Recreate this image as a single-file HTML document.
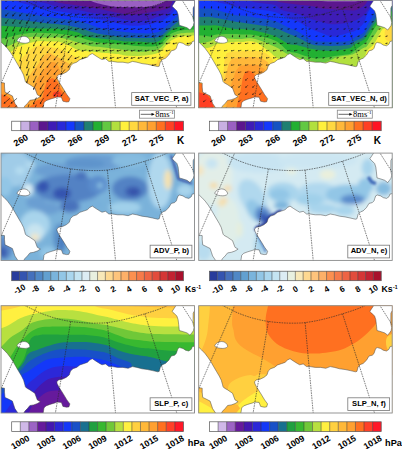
<!DOCTYPE html><html><head><meta charset="utf-8"><style>
html,body{margin:0;padding:0;background:#fff;width:402px;height:449px;overflow:hidden}
svg{display:block}
text{font-family:"Liberation Sans",sans-serif}
.lb{font-size:7.6px;font-weight:bold;fill:#000}
.cl{font-weight:bold;fill:#000}
.un{font-weight:bold;fill:#000}
.vr{font-family:"Liberation Serif",serif;font-size:8.5px;fill:#000}
</style></head><body>
<svg xmlns="http://www.w3.org/2000/svg" width="402" height="449" viewBox="0 0 402 449">
<defs><filter id="blur1" filterUnits="userSpaceOnUse" x="-20" y="-20" width="240" height="150"><feGaussianBlur stdDeviation="0.8"/></filter><filter id="blur2" filterUnits="userSpaceOnUse" x="-20" y="-20" width="240" height="150"><feGaussianBlur stdDeviation="2"/></filter><filter id="blur3" filterUnits="userSpaceOnUse" x="-20" y="-20" width="240" height="150"><feGaussianBlur stdDeviation="3"/></filter><clipPath id="pc"><rect x="1" y="0.5" width="193.5" height="107.3"/></clipPath></defs>
<g transform="translate(0,0)"><g clip-path="url(#pc)"><rect x="-5" y="-5" width="206" height="120" fill="#9a60c2"/><path d="M-15,-6 C0.83,-5.67 62.83,-4.92 80,-4 C97.17,-3.08 85.5,-1.58 88,-0.5 C90.5,0.58 92.17,1.58 95,2.5 C97.83,3.42 101.67,4.28 105,5 C108.33,5.72 110.83,6.43 115,6.8 C119.17,7.17 125,7.17 130,7.2 C135,7.23 140.83,7.28 145,7 C149.17,6.72 152.17,6.17 155,5.5 C157.83,4.83 160,3.92 162,3 C164,2.08 165.33,1.33 167,0 C168.67,-1.33 164.83,-4 172,-5 C179.17,-6 203.67,-5.83 210,-6 L215,125 L-15,125 Z" fill="#5c168e"/><path d="M-15,-6 C-7.5,-5.67 19.17,-5 30,-4 C40.83,-3 45,-1.17 50,0 C55,1.17 55.33,2.08 60,3 C64.67,3.92 73,4.75 78,5.5 C83,6.25 86.33,6.92 90,7.5 C93.67,8.08 95.33,8.08 100,9 C104.67,9.92 113,12.08 118,13 C123,13.92 126.33,14.33 130,14.5 C133.67,14.67 135.5,14.58 140,14 C144.5,13.42 152.3,11.97 157,11 C161.7,10.03 165.7,9.53 168.2,8.2 C170.7,6.87 170.7,5.2 172,3 C173.3,0.8 169.67,-3.5 176,-5 C182.33,-6.5 204.33,-5.83 210,-6 L215,125 L-15,125 Z" fill="#3e1cb6"/><path d="M-15,-4 C-9.17,-3.5 12.5,-1.83 20,-1 C27.5,-0.17 25.83,0.33 30,1 C34.17,1.67 40,1.92 45,3 C50,4.08 54.5,6.33 60,7.5 C65.5,8.67 73,9.17 78,10 C83,10.83 86.33,11.83 90,12.5 C93.67,13.17 95.33,13.08 100,14 C104.67,14.92 113,16.92 118,18 C123,19.08 126.33,20 130,20.5 C133.67,21 136.67,21.17 140,21 C143.33,20.83 147.17,20.17 150,19.5 C152.83,18.83 153.97,18.03 157,17 C160.03,15.97 165.37,15.13 168.2,13.3 C171.03,11.47 172.03,8.22 174,6 C175.97,3.78 174,1.5 180,0 C186,-1.5 205,-2.5 210,-3 L215,125 L-15,125 Z" fill="#2828d8"/><path d="M-15,-3 C-10.83,-2.5 3.23,-1.18 10,0 C16.77,1.18 19.77,2.6 25.6,4.1 C31.43,5.6 39.27,7.77 45,9 C50.73,10.23 54.5,10.58 60,11.5 C65.5,12.42 73,13.5 78,14.5 C83,15.5 86.33,16.67 90,17.5 C93.67,18.33 95.33,18.5 100,19.5 C104.67,20.5 113,22.5 118,23.5 C123,24.5 126.33,25.17 130,25.5 C133.67,25.83 135.5,26 140,25.5 C144.5,25 152.3,23.93 157,22.5 C161.7,21.07 165.2,18.98 168.2,16.9 C171.2,14.82 172.7,12.15 175,10 C177.3,7.85 176.17,5.67 182,4 C187.83,2.33 205.33,0.67 210,0 L215,125 L-15,125 Z" fill="#1438fc"/><path d="M-15,8 C-11.67,8.28 -1.77,8.82 5,9.7 C11.77,10.58 18.93,12.17 25.6,13.3 C32.27,14.43 39.27,15.63 45,16.5 C50.73,17.37 54.5,17.75 60,18.5 C65.5,19.25 73,20 78,21 C83,22 86.33,23.33 90,24.5 C93.67,25.67 95.33,26.92 100,28 C104.67,29.08 113,30.25 118,31 C123,31.75 126.63,32.12 130,32.5 C133.37,32.88 134.53,33.18 138.2,33.3 C141.87,33.42 148.33,33.57 152,33.2 C155.67,32.83 157.5,32.53 160.2,31.1 C162.9,29.67 165.73,26.78 168.2,24.6 C170.67,22.42 172.2,20.43 175,18 C177.8,15.57 179.17,12.17 185,10 C190.83,7.83 205.83,5.83 210,5 L215,125 L-15,125 Z" fill="#1452c2"/><path d="M-15,16.5 C-11.67,16.73 -1.77,17.23 5,17.9 C11.77,18.57 18.93,19.65 25.6,20.5 C32.27,21.35 39.27,22.33 45,23 C50.73,23.67 54.5,23.75 60,24.5 C65.5,25.25 73,26.33 78,27.5 C83,28.67 86.33,30.42 90,31.5 C93.67,32.58 95.33,33.15 100,34 C104.67,34.85 113.83,36.02 118,36.6 C122.17,37.18 121.63,37.28 125,37.5 C128.37,37.72 133.7,37.82 138.2,37.9 C142.7,37.98 148.33,38.27 152,38 C155.67,37.73 157.5,37.68 160.2,36.3 C162.9,34.92 165.73,31.75 168.2,29.7 C170.67,27.65 172.2,25.95 175,24 C177.8,22.05 179.17,19.67 185,18 C190.83,16.33 205.83,14.67 210,14 L215,125 L-15,125 Z" fill="#1f7f72"/><path d="M-15,25 C-11.67,25.18 -1.77,25.65 5,26.1 C11.77,26.55 18.93,27.3 25.6,27.7 C32.27,28.1 39.27,28.28 45,28.5 C50.73,28.72 54.5,28.33 60,29 C65.5,29.67 73.83,31.33 78,32.5 C82.17,33.67 81.33,34.98 85,36 C88.67,37.02 94.5,37.85 100,38.6 C105.5,39.35 113.83,40.02 118,40.5 C122.17,40.98 121.63,41.33 125,41.5 C128.37,41.67 133.7,41.33 138.2,41.5 C142.7,41.67 148.33,42.68 152,42.5 C155.67,42.32 157.5,42.02 160.2,40.4 C162.9,38.78 165.73,34.87 168.2,32.8 C170.67,30.73 172.2,29.13 175,28 C177.8,26.87 179.17,26.67 185,26 C190.83,25.33 205.83,24.33 210,24 L215,125 L-15,125 Z" fill="#22b032"/><path d="M-15,40 C-11.67,39.67 0,38.75 5,38 C10,37.25 10.83,36.33 15,35.5 C19.17,34.67 25,33.42 30,33 C35,32.58 40,32.83 45,33 C50,33.17 54.5,33.33 60,34 C65.5,34.67 73,35.92 78,37 C83,38.08 86.33,39.58 90,40.5 C93.67,41.42 95.33,41.92 100,42.5 C104.67,43.08 111.67,43.4 118,44 C124.33,44.6 132.33,45.68 138,46.1 C143.67,46.52 148.3,46.77 152,46.5 C155.7,46.23 157.5,46.25 160.2,44.5 C162.9,42.75 165.73,38.08 168.2,36 C170.67,33.92 172.2,33 175,32 C177.8,31 179.17,30.5 185,30 C190.83,29.5 205.83,29.17 210,29 L215,125 L-15,125 Z" fill="#62c842"/><path d="M-15,55 C-12.5,54.17 -5,52 0,50 C5,48 10,45.17 15,43 C20,40.83 25,37.92 30,37 C35,36.08 40,37.4 45,37.5 C50,37.6 54.5,36.77 60,37.6 C65.5,38.43 73,41.1 78,42.5 C83,43.9 86.33,45.25 90,46 C93.67,46.75 95.33,46.5 100,47 C104.67,47.5 111.67,48.2 118,49 C124.33,49.8 132.33,51.55 138,51.8 C143.67,52.05 148.3,51.13 152,50.5 C155.7,49.87 157.5,49.85 160.2,48 C162.9,46.15 165.73,41.57 168.2,39.4 C170.67,37.23 172.2,36.07 175,35 C177.8,33.93 179.17,33.5 185,33 C190.83,32.5 205.83,32.17 210,32 L215,125 L-15,125 Z" fill="#b2e03e"/><path d="M-15,62 C-10.83,60.33 4.67,54.5 10,52 C15.33,49.5 13.67,48.5 17,47 C20.33,45.5 26.17,44 30,43 C33.83,42 36.67,41.25 40,41 C43.33,40.75 46.67,41.33 50,41.5 C53.33,41.67 56.67,41.25 60,42 C63.33,42.75 67,44.67 70,46 C73,47.33 75.5,49.17 78,50 C80.5,50.83 81.33,50.6 85,51 C88.67,51.4 94.5,51.9 100,52.4 C105.5,52.9 113.83,53.48 118,54 C122.17,54.52 121.67,55.18 125,55.5 C128.33,55.82 133.5,56.07 138,55.9 C142.5,55.73 148.3,55.22 152,54.5 C155.7,53.78 157.5,53.52 160.2,51.6 C162.9,49.68 165.73,45.18 168.2,43 C170.67,40.82 172.2,39.67 175,38.5 C177.8,37.33 179.17,36.58 185,36 C190.83,35.42 205.83,35.17 210,35 L215,125 L-15,125 Z" fill="#fff03c"/><path d="M-15,80 C-10.83,78.33 4.17,73.33 10,70 C15.83,66.67 17.17,62.83 20,60 C22.83,57.17 24.83,55 27,53 C29.17,51 30.83,49.25 33,48 C35.17,46.75 37.17,45.67 40,45.5 C42.83,45.33 46.62,46.37 50,47 C53.38,47.63 56.88,48.07 60.3,49.3 C63.72,50.53 67.55,52.95 70.5,54.4 C73.45,55.85 74.75,56.73 78,58 C81.25,59.27 78,61 90,62 C102,63 138.67,64.33 150,64 C161.33,63.67 155.5,61.5 158,60 C160.5,58.5 162.17,57 165,55 C167.83,53 171.67,49.5 175,48 C178.33,46.5 179.17,46.5 185,46 C190.83,45.5 205.83,45.17 210,45 L215,125 L-15,125 Z" fill="#ffd840"/><path d="M-15,95 C-9.17,94.17 13,92.5 20,90 C27,87.5 25,83 27,80 C29,77 30.28,74.42 32,72 C33.72,69.58 35.47,68 37.3,65.5 C39.13,63 41.05,59.08 43,57 C44.95,54.92 47,53.17 49,53 C51,52.83 53.12,55.08 55,56 C56.88,56.92 57.72,57.07 60.3,58.5 C62.88,59.93 67.22,62.68 70.5,64.6 C73.78,66.52 75.08,67.43 80,70 C84.92,72.57 78.33,77.5 100,80 C121.67,82.5 191.67,84.17 210,85 L215,125 L-15,125 Z" fill="#ffb83a"/><path d="M-15,84 C-12,83.67 -1.5,81.67 3,82 C7.5,82.33 8.83,83.83 12,86 C15.17,88.17 19.83,92.67 22,95 C24.17,97.33 23.17,101.17 25,100 C26.83,98.83 30.95,91.53 33,88 C35.05,84.47 35.8,81.47 37.3,78.8 C38.8,76.13 40.3,74.22 42,72 C43.7,69.78 45.83,67.17 47.5,65.5 C49.17,63.83 50.42,62.25 52,62 C53.58,61.75 55.33,62 57,64 C58.67,66 59.83,71.33 62,74 C64.17,76.67 63.67,77.33 70,80 C76.33,82.67 76.67,87.5 100,90 C123.33,92.5 191.67,94.17 210,95 L215,125 L-15,125 Z" fill="#ffa030"/><path d="M-15,92 C-11.83,92.5 -0.5,93.67 4,95 C8.5,96.33 9.33,97.83 12,100 C14.67,102.17 17.83,106.5 20,108 C22.17,109.5 23.05,109.45 25,109 C26.95,108.55 29.83,106.67 31.7,105.3 C33.57,103.93 34.52,101.92 36.2,100.8 C37.88,99.68 40.5,100.27 41.8,98.6 C43.1,96.93 43.05,93.9 44,90.8 C44.95,87.7 46.5,81.97 47.5,80 C48.5,78.03 49.08,79.27 50,79 C50.92,78.73 51.93,78.12 53,78.4 C54.07,78.68 55.47,79.77 56.4,80.7 C57.33,81.63 57.67,82.32 58.6,84 C59.53,85.68 60.7,89.12 62,90.8 C63.3,92.48 64.23,92.57 66.4,94.1 C68.57,95.63 69.4,97.35 75,100 C80.6,102.65 77.5,108.33 100,110 C122.5,111.67 191.67,110 210,110 L215,125 L-15,125 Z" fill="#ff7020"/><ellipse cx="57" cy="94.5" rx="4.2" ry="3" fill="#ff4024"/><path d="M43,109 L44,102.7 L46,100.7 L50,99.2 L55,97.7 L57,96.9 L61.4,97.2 L62.9,101.2 L66.5,102 L68.9,101.7 L69.9,98.7 L66.9,94.7 L63.9,89.7 L61.4,85.7 L58.9,81.8 L57.2,78.5 L56.8,76.5 L58.7,74.7 L62.4,74 L66.2,72.2 L69.3,69.7 L70.5,65.9 L73,63.5 L76.7,62.2 L79.9,59.7 L83.6,58.5 L87.3,57.2 L89.8,54.8 L92.3,53.5 L96,56 L100,58.5 L102,59.6 L105.5,58.7 L108.9,61.4 L112.4,61.4 L117.6,62.2 L122.9,62.2 L128.1,63.1 L132.5,61.4 L136.8,62.2 L142,63.6 L147.3,64.3 L152.5,65.4 L157.7,66.6 L159.2,66.2 L160.4,61.7 L162.9,59.2 L165.4,58.3 L168.8,55 L171.3,50.8 L174.6,50 L176.3,48.3 L177.1,45.8 L178,43.3 L179.6,42.4 L183,43.3 L185.5,45 L188.8,45.8 L191.3,44.1 L192.2,41.6 L196,40.5 L196,109 Z" fill="#fff" stroke="#444" stroke-width="0.5"/><path d="M-1,42 L1.5,42.5 L4,44.8 L7.5,48.5 L10.5,52.5 L13.2,56.6 L16,61.5 L18.8,66.3 L21.5,70.8 L23.6,75 L24.7,79 L25.4,81.6 L26.5,82.8 L29.9,84.7 L32.5,86.5 L34.8,88 L37.3,94.7 L40.4,96.5 L37.3,98.4 L33.6,99.7 L29.9,100.3 L27.4,103.4 L24.9,105.9 L23,109 L18.7,109 L14.9,103.4 L13.7,99.7 L12.4,95.9 L7.5,93.4 L5,92.2 L4.5,87 L4.5,83 L-1,82.2 Z" fill="#fff" stroke="#444" stroke-width="0.5"/><path d="M175.7,-1 L175.7,0.8 L172.1,6.2 L173.9,7.9 L176.9,10.9 L178.1,14.5 L178.7,19.3 L179.3,25.3 L183.4,26.5 L187,27.7 L190,30 L191.8,27.7 L193.4,25.5 L194,22.5 L193.1,18.5 L193.2,8 L194.2,6 L196,5 L196,-1 Z" fill="#fff" stroke="#444" stroke-width="0.5"/><path d="M17,40.6 C17.6,38.2 20.8,36.3 24,36.3 C27.2,36.3 29.6,38.6 30,41.2 C28.8,43 26,43.5 23,43.1 C20,42.8 17.4,42 17,40.6 Z" fill="#fff" stroke="#444" stroke-width="0.5"/><g fill="none" stroke="#2a2a2a" stroke-width="0.6" stroke-dasharray="1.6 0.9"><path d="M22,-0.6 C22.48,-0.43 23.18,-0.37 24.9,0.4 C26.62,1.17 29.82,2.8 32.3,4 C34.78,5.2 36.88,6.38 39.8,7.6 C42.72,8.82 46.48,10.22 49.8,11.3 C53.12,12.38 56.38,13.3 59.7,14.1 C63.02,14.9 66.32,15.57 69.7,16.1 C73.08,16.63 76.62,17 80,17.3 C83.38,17.6 86.67,17.8 90,17.9 C93.33,18 97.1,17.98 100,17.9 C102.9,17.82 104.08,17.83 107.4,17.4 C110.72,16.97 115.75,16.15 119.9,15.3 C124.05,14.45 128.15,13.42 132.3,12.3 C136.45,11.18 140.65,9.88 144.8,8.6 C148.95,7.32 153.68,5.85 157.2,4.6 C160.72,3.35 164.02,1.97 165.9,1.1 C167.78,0.23 168.07,-0.32 168.5,-0.6"/><path d="M37.4,-0.6 L-1,88.3"/><path d="M70.7,16.2 L55.2,109"/><path d="M107.4,17.4 L115.6,109"/><path d="M144.8,8.6 L177.2,109"/><path d="M181.6,-0.6 L196,22"/></g><path d="M8.5,-1.04L6.63,0.32M15.5,-1.04L13.63,0.32M22.51,-1.03L20.63,0.32M29.6,-0.98L27.59,0.34M36.68,-0.92L34.55,0.35M43.76,-0.86L41.51,0.36M50.84,-0.79L48.47,0.36M57.92,-0.72L55.42,0.36M65,-0.64L62.38,0.36M72.07,-0.56L69.33,0.36M79.14,-0.47L76.29,0.35M86.21,-0.38L83.24,0.33M93.25,-0.32L90.21,0.32M100.25,-0.32L97.21,0.32M107.25,-0.32L104.21,0.32M114.25,-0.32L111.21,0.32M121.25,-0.32L118.21,0.32M128.25,-0.32L125.21,0.32M135.25,-0.32L132.21,0.32M142.25,-0.32L139.21,0.32M149.25,-0.32L146.21,0.32M156.25,-0.32L153.21,0.32M163.25,-0.32L160.21,0.32M170.25,-0.32L167.21,0.32M177.25,-0.32L174.21,0.32M8.56,5.94L6.5,7.65M15.56,5.94L13.5,7.65M22.57,5.95L20.5,7.65M29.66,6.03L27.47,7.64M36.74,6.11L34.44,7.64M43.82,6.19L41.41,7.63M50.9,6.29L48.38,7.62M57.97,6.38L55.35,7.61M65.04,6.48L62.32,7.6M72.1,6.59L69.29,7.58M79.16,6.7L76.26,7.56M86.22,6.81L83.23,7.54M93.25,6.88L90.21,7.52M100.25,6.88L97.21,7.52M107.25,6.88L104.21,7.52M114.25,6.88L111.21,7.52M121.25,6.88L118.21,7.52M128.25,6.88L125.21,7.52M135.25,6.88L132.21,7.52M142.25,6.88L139.21,7.52M149.25,6.88L146.21,7.52M156.25,6.88L153.21,7.52M163.25,6.88L160.21,7.52M170.25,6.88L167.21,7.52M8.47,12.78L6.42,15.02M15.47,12.78L13.42,15.02M22.48,12.8L20.41,15.01M29.6,12.9L27.39,14.99M36.7,13.02L34.36,14.97M43.8,13.14L41.33,14.94M50.89,13.27L48.31,14.91M57.98,13.4L55.29,14.88M65.05,13.54L62.27,14.85M72.12,13.69L69.25,14.82M79.17,13.84L76.23,14.78M86.22,13.99L83.22,14.75M93.25,14.08L90.21,14.72M100.25,14.08L97.21,14.72M107.25,14.08L104.21,14.72M114.25,14.08L111.21,14.72M121.25,14.08L118.21,14.72M128.25,14.08L125.21,14.72M135.25,14.08L132.21,14.72M142.25,14.08L139.21,14.72M149.25,14.08L146.21,14.72M156.25,14.08L153.21,14.72M163.25,14.08L160.21,14.72M170.25,14.08L167.21,14.72M177.25,14.08L174.21,14.72M8.27,19.48L6.35,22.52M15.27,19.48L13.35,22.52M22.29,19.49L20.34,22.51M29.46,19.64L27.3,22.45M36.61,19.81L34.27,22.39M43.75,19.98L41.24,22.32M50.87,20.16L48.22,22.26M57.98,20.35L55.2,22.2M65.07,20.55L62.19,22.13M72.14,20.75L69.19,22.07M79.19,20.95L76.2,22.01M86.23,21.16L83.21,21.96M93.25,21.28L90.21,21.92M100.25,21.28L97.21,21.92M107.25,21.28L104.21,21.92M114.25,21.28L111.21,21.92M121.25,21.28L118.21,21.92M128.25,21.28L125.21,21.92M135.25,21.28L132.21,21.92M142.25,21.28L139.21,21.92M149.25,21.28L146.21,21.92M156.25,21.28L153.21,21.92M163.25,21.28L160.21,21.92M170.25,21.28L167.21,21.92M177.25,21.28L174.21,21.92M8.07,26.22L6.32,30.05M15.07,26.22L13.32,30.05M22.1,26.24L20.31,30.04M29.33,26.43L27.24,29.94M36.54,26.63L34.19,29.84M43.72,26.85L41.15,29.73M50.87,27.08L48.12,29.63M58,27.33L55.11,29.52M65.1,27.57L62.11,29.42M72.18,27.83L69.13,29.33M79.22,28.08L76.15,29.25M86.24,28.33L83.19,29.17M93.25,28.48L90.21,29.12M100.25,28.48L97.21,29.12M107.25,28.48L104.21,29.12M114.25,28.48L111.21,29.12M121.25,28.48L118.21,29.12M128.25,28.48L125.21,29.12M135.25,28.48L132.21,29.12M142.25,28.48L139.21,29.12M149.25,28.48L146.21,29.12M156.25,28.48L153.21,29.12M163.25,28.48L160.21,29.12M170.25,28.48L167.21,29.12M177.25,28.48L174.21,29.12M184.25,28.48L181.21,29.12M7.92,32.91L6.29,37.69M14.92,32.91L13.29,37.69M36.51,33.42L34.09,37.36M43.74,33.7L41.03,37.2M50.92,33.99L48,37.04M58.07,34.3L54.99,36.88M65.17,34.6L62,36.74M72.24,34.91L69.04,36.6M79.27,35.21L76.09,36.48M86.27,35.51L83.16,36.38M93.25,35.68L90.21,36.32M100.25,35.68L97.21,36.32M107.25,35.68L104.21,36.32M114.25,35.68L111.21,36.32M121.25,35.68L118.21,36.32M128.25,35.68L125.21,36.32M135.25,35.68L132.21,36.32M142.25,35.68L139.21,36.32M149.25,35.68L146.21,36.32M156.25,35.68L153.21,36.32M163.25,35.68L160.21,36.32M170.25,35.68L167.21,36.32M177.25,35.68L174.21,36.32M184.25,35.68L181.21,36.32M191.25,35.68L188.21,36.32M7.69,39.6L6.34,45.35M14.69,39.6L13.34,45.35M36.45,40.2L34.02,44.91M43.73,40.54L40.93,44.69M50.96,40.89L47.88,44.47M58.13,41.25L54.87,44.26M65.24,41.62L61.89,44.06M72.31,41.99L68.95,43.88M79.32,42.35L76.03,43.72M86.29,42.69L83.14,43.59M93.25,42.88L90.21,43.52M100.25,42.88L97.21,43.52M107.25,42.88L104.21,43.52M114.25,42.88L111.21,43.52M121.25,42.88L118.21,43.52M128.25,42.88L125.21,43.52M135.25,42.88L132.21,43.52M142.25,42.88L139.21,43.52M149.25,42.88L146.21,43.52M156.25,42.88L153.21,43.52M163.25,42.88L160.21,43.52M170.25,42.88L167.21,43.52M177.25,42.88L174.21,43.52M191.25,42.88L188.21,43.52M14.62,46.64L13.37,52.7M21.67,46.67L20.34,52.67M29.08,46.95L27.15,52.45M36.43,47.27L34.01,52.22M43.73,47.62L40.9,51.98M50.95,47.84L47.81,51.86M57.95,47.84L54.81,51.86M64.95,47.84L61.81,51.86M71.95,47.84L68.81,51.86M79.34,49.53L76.01,50.93M86.29,49.88L83.13,50.79M93.25,50.08L90.21,50.72M100.25,50.08L97.21,50.72M107.25,50.08L104.21,50.72M114.25,50.08L111.21,50.72M121.25,50.08L118.21,50.72M128.25,50.08L125.21,50.72M135.25,50.08L132.21,50.72M142.25,50.08L139.21,50.72M149.25,50.08L146.21,50.72M156.25,50.08L153.21,50.72M163.25,50.08L160.21,50.72M170.25,50.08L167.21,50.72M21.65,53.82L20.35,59.92M29.07,54.1L27.15,59.7M36.43,54.43L34,59.46M43.73,54.79L40.89,59.22M50.95,55.04L47.81,59.06M57.95,55.04L54.81,59.06M64.95,55.04L61.81,59.06M71.95,55.04L68.81,59.06M79.34,56.72L76.01,58.14M86.3,57.08L83.13,57.99M107.25,57.28L104.21,57.92M114.25,57.28L111.21,57.92M121.25,57.28L118.21,57.92M128.25,57.28L125.21,57.92M135.25,57.28L132.21,57.92M142.25,57.28L139.21,57.92M149.25,57.28L146.21,57.92M156.25,57.28L153.21,57.92M163.25,57.28L160.21,57.92M21.63,60.96L20.35,67.18M29.06,61.25L27.15,66.95M36.43,61.58L33.99,66.7M43.74,61.95L40.88,66.45M50.95,62.24L47.81,66.26M57.95,62.24L54.81,66.26M64.95,62.24L61.81,66.26M71.95,62.24L68.81,66.26M156.25,64.48L153.21,65.12M29.05,68.4L27.14,74.19M36.43,68.74L33.98,73.94M43.74,69.11L40.87,73.68M50.95,69.44L47.81,73.46M57.95,69.44L54.81,73.46M64.95,69.44L61.81,73.46M29.04,75.55L27.14,81.44M36.42,75.89L33.97,81.18M43.74,76.27L40.86,80.92M50.96,76.64L47.81,80.67M57.95,76.64L54.81,80.66M36.42,83.09L33.97,88.39M43.74,83.46L40.86,88.12M50.96,83.84L47.81,87.87M57.95,83.84L54.81,87.86M10.06,91.07L5,95.31M43.74,90.66L40.86,95.32M50.96,91.04L47.81,95.07M57.95,91.04L54.81,95.06M64.95,91.04L61.81,95.06M10.06,98.27L5,102.51M17.06,98.27L12,102.51M36.42,97.49L33.97,102.79M43.74,97.86L40.86,102.52M10.06,105.47L5,109.71M17.06,105.47L12,109.71M29.04,104.34L27.14,110.25M36.42,104.69L33.97,109.99M43.74,105.06L40.86,109.72" stroke="#111" stroke-width="0.6" fill="none"/><path d="M5.1,1.44L6.05,-0.49L7.22,1.13ZM12.1,1.44L13.05,-0.49L14.22,1.13ZM19.09,1.43L20.04,-0.49L21.22,1.13ZM26,1.38L27.04,-0.5L28.14,1.17ZM32.92,1.32L34.04,-0.51L35.06,1.21ZM39.84,1.26L41.03,-0.52L41.98,1.24ZM46.76,1.19L48.03,-0.54L48.9,1.26ZM53.68,1.12L55.02,-0.55L55.82,1.28ZM60.6,1.04L62.02,-0.57L62.73,1.3ZM67.53,0.96L69.01,-0.59L69.65,1.31ZM74.46,0.87L76.01,-0.61L76.56,1.31ZM81.39,0.78L83.01,-0.64L83.47,1.31ZM88.35,0.72L90.01,-0.65L90.42,1.3ZM95.35,0.72L97.01,-0.65L97.42,1.3ZM102.35,0.72L104.01,-0.65L104.42,1.3ZM109.35,0.72L111.01,-0.65L111.42,1.3ZM116.35,0.72L118.01,-0.65L118.42,1.3ZM123.35,0.72L125.01,-0.65L125.42,1.3ZM130.35,0.72L132.01,-0.65L132.42,1.3ZM137.35,0.72L139.01,-0.65L139.42,1.3ZM144.35,0.72L146.01,-0.65L146.42,1.3ZM151.35,0.72L153.01,-0.65L153.42,1.3ZM158.35,0.72L160.01,-0.65L160.42,1.3ZM165.35,0.72L167.01,-0.65L167.42,1.3ZM172.35,0.72L174.01,-0.65L174.42,1.3ZM5.04,8.86L5.87,6.88L7.14,8.42ZM12.04,8.86L12.87,6.88L14.14,8.42ZM19.03,8.85L19.87,6.87L21.13,8.42ZM25.94,8.77L26.88,6.84L28.07,8.45ZM32.86,8.69L33.89,6.81L35,8.47ZM39.78,8.61L40.9,6.77L41.92,8.49ZM46.7,8.51L47.91,6.74L48.85,8.51ZM53.63,8.42L54.92,6.71L55.77,8.52ZM60.56,8.32L61.94,6.67L62.7,8.52ZM67.5,8.21L68.96,6.64L69.62,8.52ZM74.44,8.1L75.97,6.6L76.54,8.52ZM81.38,7.99L82.99,6.57L83.47,8.51ZM88.35,7.92L90.01,6.55L90.42,8.5ZM95.35,7.92L97.01,6.55L97.42,8.5ZM102.35,7.92L104.01,6.55L104.42,8.5ZM109.35,7.92L111.01,6.55L111.42,8.5ZM116.35,7.92L118.01,6.55L118.42,8.5ZM123.35,7.92L125.01,6.55L125.42,8.5ZM130.35,7.92L132.01,6.55L132.42,8.5ZM137.35,7.92L139.01,6.55L139.42,8.5ZM144.35,7.92L146.01,6.55L146.42,8.5ZM151.35,7.92L153.01,6.55L153.42,8.5ZM158.35,7.92L160.01,6.55L160.42,8.5ZM165.35,7.92L167.01,6.55L167.42,8.5ZM5.13,16.42L5.68,14.34L7.15,15.69ZM12.13,16.42L12.68,14.34L14.15,15.69ZM19.12,16.4L19.68,14.33L21.15,15.7ZM26,16.3L26.7,14.26L28.07,15.72ZM32.9,16.18L33.72,14.2L35,15.74ZM39.8,16.06L40.75,14.13L41.92,15.75ZM46.71,15.93L47.77,14.07L48.85,15.75ZM53.62,15.8L54.81,14L55.77,15.76ZM60.55,15.66L61.84,13.94L62.69,15.75ZM67.48,15.51L68.88,13.89L69.62,15.75ZM74.43,15.36L75.93,13.83L76.54,15.73ZM81.38,15.21L82.98,13.78L83.47,15.72ZM88.35,15.12L90.01,13.75L90.42,15.7ZM95.35,15.12L97.01,13.75L97.42,15.7ZM102.35,15.12L104.01,13.75L104.42,15.7ZM109.35,15.12L111.01,13.75L111.42,15.7ZM116.35,15.12L118.01,13.75L118.42,15.7ZM123.35,15.12L125.01,13.75L125.42,15.7ZM130.35,15.12L132.01,13.75L132.42,15.7ZM137.35,15.12L139.01,13.75L139.42,15.7ZM144.35,15.12L146.01,13.75L146.42,15.7ZM151.35,15.12L153.01,13.75L153.42,15.7ZM158.35,15.12L160.01,13.75L160.42,15.7ZM165.35,15.12L167.01,13.75L167.42,15.7ZM172.35,15.12L174.01,13.75L174.42,15.7ZM5.33,24.12L5.5,21.98L7.19,23.05ZM12.33,24.12L12.5,21.98L14.19,23.05ZM19.31,24.11L19.5,21.97L21.18,23.05ZM26.14,23.96L26.51,21.84L28.09,23.06ZM32.99,23.79L33.53,21.72L35.01,23.06ZM39.85,23.62L40.56,21.59L41.92,23.06ZM46.73,23.44L47.6,21.48L48.84,23.05ZM53.62,23.25L54.65,21.37L55.76,23.03ZM60.53,23.05L61.71,21.26L62.68,23.01ZM67.46,22.85L68.78,21.16L69.6,22.99ZM74.41,22.65L75.86,21.07L76.53,22.96ZM81.37,22.44L82.95,20.99L83.46,22.92ZM88.35,22.32L90.01,20.95L90.42,22.9ZM95.35,22.32L97.01,20.95L97.42,22.9ZM102.35,22.32L104.01,20.95L104.42,22.9ZM109.35,22.32L111.01,20.95L111.42,22.9ZM116.35,22.32L118.01,20.95L118.42,22.9ZM123.35,22.32L125.01,20.95L125.42,22.9ZM130.35,22.32L132.01,20.95L132.42,22.9ZM137.35,22.32L139.01,20.95L139.42,22.9ZM144.35,22.32L146.01,20.95L146.42,22.9ZM151.35,22.32L153.01,20.95L153.42,22.9ZM158.35,22.32L160.01,20.95L160.42,22.9ZM165.35,22.32L167.01,20.95L167.42,22.9ZM172.35,22.32L174.01,20.95L174.42,22.9ZM5.53,31.78L5.41,29.64L7.23,30.47ZM12.53,31.78L12.41,29.64L14.23,30.47ZM19.5,31.76L19.4,29.61L21.21,30.47ZM26.27,31.57L26.38,29.43L28.1,30.45ZM33.06,31.37L33.38,29.24L34.99,30.43ZM39.88,31.15L40.4,29.06L41.89,30.4ZM46.73,30.92L47.44,28.89L48.8,30.36ZM53.6,30.67L54.51,28.73L55.72,30.32ZM60.5,30.43L61.59,28.57L62.64,30.27ZM67.42,30.17L68.69,28.44L69.57,30.23ZM74.38,29.92L75.8,28.31L76.51,30.18ZM81.36,29.67L82.92,28.2L83.45,30.13ZM88.35,29.52L90.01,28.15L90.42,30.1ZM95.35,29.52L97.01,28.15L97.42,30.1ZM102.35,29.52L104.01,28.15L104.42,30.1ZM109.35,29.52L111.01,28.15L111.42,30.1ZM116.35,29.52L118.01,28.15L118.42,30.1ZM123.35,29.52L125.01,28.15L125.42,30.1ZM130.35,29.52L132.01,28.15L132.42,30.1ZM137.35,29.52L139.01,28.15L139.42,30.1ZM144.35,29.52L146.01,28.15L146.42,30.1ZM151.35,29.52L153.01,28.15L153.42,30.1ZM158.35,29.52L160.01,28.15L160.42,30.1ZM165.35,29.52L167.01,28.15L167.42,30.1ZM172.35,29.52L174.01,28.15L174.42,30.1ZM179.35,29.52L181.01,28.15L181.42,30.1ZM5.68,39.49L5.35,37.37L7.24,38.01ZM12.68,39.49L12.35,37.37L14.24,38.01ZM33.09,38.98L33.23,36.83L34.94,37.88ZM39.86,38.7L40.24,36.58L41.82,37.81ZM46.68,38.41L47.27,36.34L48.72,37.73ZM53.53,38.1L54.34,36.12L55.63,37.65ZM60.43,37.8L61.45,35.91L62.56,37.57ZM67.36,37.49L68.57,35.72L69.51,37.49ZM74.33,37.19L75.72,35.55L76.46,37.41ZM81.33,36.89L82.89,35.42L83.43,37.34ZM88.35,36.72L90.01,35.35L90.42,37.3ZM95.35,36.72L97.01,35.35L97.42,37.3ZM102.35,36.72L104.01,35.35L104.42,37.3ZM109.35,36.72L111.01,35.35L111.42,37.3ZM116.35,36.72L118.01,35.35L118.42,37.3ZM123.35,36.72L125.01,35.35L125.42,37.3ZM130.35,36.72L132.01,35.35L132.42,37.3ZM137.35,36.72L139.01,35.35L139.42,37.3ZM144.35,36.72L146.01,35.35L146.42,37.3ZM151.35,36.72L153.01,35.35L153.42,37.3ZM158.35,36.72L160.01,35.35L160.42,37.3ZM165.35,36.72L167.01,35.35L167.42,37.3ZM172.35,36.72L174.01,35.35L174.42,37.3ZM179.35,36.72L181.01,35.35L181.42,37.3ZM186.35,36.72L188.01,35.35L188.42,37.3ZM5.91,47.2L5.37,45.12L7.31,45.58ZM12.91,47.2L12.37,45.12L14.31,45.58ZM33.15,46.6L33.13,44.45L34.91,45.37ZM39.87,46.26L40.1,44.13L41.76,45.25ZM46.64,45.91L47.12,43.82L48.64,45.12ZM53.47,45.55L54.19,43.52L55.55,44.99ZM60.36,45.18L61.31,43.25L62.48,44.87ZM67.29,44.81L68.46,43.01L69.44,44.75ZM74.28,44.45L75.65,42.8L76.42,44.64ZM81.31,44.11L82.86,42.63L83.42,44.55ZM88.35,43.92L90.01,42.55L90.42,44.5ZM95.35,43.92L97.01,42.55L97.42,44.5ZM102.35,43.92L104.01,42.55L104.42,44.5ZM109.35,43.92L111.01,42.55L111.42,44.5ZM116.35,43.92L118.01,42.55L118.42,44.5ZM123.35,43.92L125.01,42.55L125.42,44.5ZM130.35,43.92L132.01,42.55L132.42,44.5ZM137.35,43.92L139.01,42.55L139.42,44.5ZM144.35,43.92L146.01,42.55L146.42,44.5ZM151.35,43.92L153.01,42.55L153.42,44.5ZM158.35,43.92L160.01,42.55L160.42,44.5ZM165.35,43.92L167.01,42.55L167.42,44.5ZM172.35,43.92L174.01,42.55L174.42,44.5ZM186.35,43.92L188.01,42.55L188.42,44.5ZM12.98,54.56L12.39,52.49L14.35,52.9ZM19.93,54.53L19.37,52.46L21.32,52.89ZM26.52,54.25L26.21,52.12L28.1,52.78ZM33.17,53.93L33.11,51.78L34.9,52.66ZM39.87,53.58L40.07,51.44L41.74,52.53ZM46.65,53.36L47.03,51.25L48.6,52.48ZM53.65,53.36L54.03,51.25L55.6,52.48ZM60.65,53.36L61.03,51.25L62.6,52.48ZM67.65,53.36L68.03,51.25L69.6,52.48ZM74.26,51.67L75.62,50.01L76.4,51.85ZM81.31,51.32L82.85,49.83L83.41,51.75ZM88.35,51.12L90.01,49.75L90.42,51.7ZM95.35,51.12L97.01,49.75L97.42,51.7ZM102.35,51.12L104.01,49.75L104.42,51.7ZM109.35,51.12L111.01,49.75L111.42,51.7ZM116.35,51.12L118.01,49.75L118.42,51.7ZM123.35,51.12L125.01,49.75L125.42,51.7ZM130.35,51.12L132.01,49.75L132.42,51.7ZM137.35,51.12L139.01,49.75L139.42,51.7ZM144.35,51.12L146.01,49.75L146.42,51.7ZM151.35,51.12L153.01,49.75L153.42,51.7ZM158.35,51.12L160.01,49.75L160.42,51.7ZM165.35,51.12L167.01,49.75L167.42,51.7ZM19.95,61.78L19.37,59.72L21.32,60.13ZM26.53,61.5L26.2,59.38L28.09,60.02ZM33.17,61.17L33.1,59.03L34.9,59.9ZM39.87,60.81L40.05,58.68L41.73,59.76ZM46.65,60.56L47.03,58.45L48.6,59.68ZM53.65,60.56L54.03,58.45L55.6,59.68ZM60.65,60.56L61.03,58.45L62.6,59.68ZM67.65,60.56L68.03,58.45L69.6,59.68ZM74.26,58.88L75.62,57.22L76.4,59.06ZM81.3,58.52L82.85,57.03L83.41,58.95ZM102.35,58.32L104.01,56.95L104.42,58.9ZM109.35,58.32L111.01,56.95L111.42,58.9ZM116.35,58.32L118.01,56.95L118.42,58.9ZM123.35,58.32L125.01,56.95L125.42,58.9ZM130.35,58.32L132.01,56.95L132.42,58.9ZM137.35,58.32L139.01,56.95L139.42,58.9ZM144.35,58.32L146.01,56.95L146.42,58.9ZM151.35,58.32L153.01,56.95L153.42,58.9ZM158.35,58.32L160.01,56.95L160.42,58.9ZM19.97,69.04L19.37,66.98L21.33,67.38ZM26.54,68.75L26.2,66.63L28.09,67.27ZM33.17,68.42L33.09,66.27L34.89,67.13ZM39.86,68.05L40.04,65.91L41.73,66.98ZM46.65,67.76L47.03,65.65L48.6,66.88ZM53.65,67.76L54.03,65.65L55.6,66.88ZM60.65,67.76L61.03,65.65L62.6,66.88ZM67.65,67.76L68.03,65.65L69.6,66.88ZM151.35,65.52L153.01,64.15L153.42,66.1ZM26.55,76L26.19,73.88L28.09,74.51ZM33.17,75.66L33.08,73.52L34.89,74.37ZM39.86,75.29L40.02,73.15L41.72,74.21ZM46.65,74.96L47.03,72.85L48.6,74.08ZM53.65,74.96L54.03,72.85L55.6,74.08ZM60.65,74.96L61.03,72.85L62.6,74.08ZM26.56,83.25L26.19,81.14L28.1,81.75ZM33.18,82.91L33.07,80.76L34.88,81.6ZM39.86,82.53L40.01,80.39L41.71,81.44ZM46.64,82.16L47.02,80.05L48.6,81.28ZM53.65,82.16L54.03,80.05L55.6,81.28ZM33.18,90.11L33.07,87.97L34.88,88.81ZM39.86,89.74L40.01,87.59L41.71,88.65ZM46.64,89.36L47.02,87.25L48.6,88.48ZM53.65,89.36L54.03,87.25L55.6,88.48ZM3.54,96.53L4.36,94.54L5.64,96.08ZM39.86,96.94L40.01,94.79L41.71,95.85ZM46.64,96.56L47.02,94.45L48.6,95.68ZM53.65,96.56L54.03,94.45L55.6,95.68ZM60.65,96.56L61.03,94.45L62.6,95.68ZM3.54,103.73L4.36,101.74L5.64,103.28ZM10.54,103.73L11.36,101.74L12.64,103.28ZM33.18,104.51L33.07,102.37L34.88,103.21ZM39.86,104.14L40.01,101.99L41.71,103.05ZM3.54,110.93L4.36,108.94L5.64,110.48ZM10.54,110.93L11.36,108.94L12.64,110.48ZM26.56,112.06L26.19,109.94L28.1,110.55ZM33.18,111.71L33.07,109.57L34.88,110.41ZM39.86,111.34L40.01,109.19L41.71,110.25Z" fill="#111"/></g><rect x="1" y="0.5" width="193.5" height="107.3" fill="none" stroke="#8a8a8a" stroke-width="0.9"/><rect x="131.7" y="92.6" width="59.2" height="12.7" fill="#fff" stroke="#777" stroke-width="0.8"/><text x="161.6" y="100.6" text-anchor="middle" class="lb">SAT_VEC_P, a)</text></g>
<g transform="translate(197.7,0)"><g clip-path="url(#pc)"><rect x="-5" y="-5" width="206" height="120" fill="#9a60c2"/><path d="M-15,-6 C5.83,-5.83 87.5,-5.83 110,-5 C132.5,-4.17 117.67,-2 120,-1 C122.33,0 121.17,0.58 124,1 C126.83,1.42 132.67,1.42 137,1.5 C141.33,1.58 146.58,1.5 150,1.5 C153.42,1.5 155.33,1.75 157.5,1.5 C159.67,1.25 161.25,1.08 163,0 C164.75,-1.08 160.17,-4 168,-5 C175.83,-6 203,-5.83 210,-6 L215,125 L-15,125 Z" fill="#5c168e"/><path d="M-15,-6 C-4.17,-5.83 37.5,-5.67 50,-5 C62.5,-4.33 55.83,-2.83 60,-2 C64.17,-1.17 71,-0.75 75,0 C79,0.75 80,1.75 84,2.5 C88,3.25 93.87,3.88 99,4.5 C104.13,5.12 110.63,5.53 114.8,6.2 C118.97,6.87 120.3,7.95 124,8.5 C127.7,9.05 133,9.25 137,9.5 C141,9.75 144.58,9.88 148,10 C151.42,10.12 154.55,10.85 157.5,10.2 C160.45,9.55 163.62,7.63 165.7,6.1 C167.78,4.57 168.78,2.85 170,1 C171.22,-0.85 166.33,-3.83 173,-5 C179.67,-6.17 203.83,-5.83 210,-6 L215,125 L-15,125 Z" fill="#3e1cb6"/><path d="M-15,-5 C-7.5,-4.67 20,-3.67 30,-3 C40,-2.33 40.17,-1.92 45,-1 C49.83,-0.08 53.67,1.5 59,2.5 C64.33,3.5 72.83,3.75 77,5 C81.17,6.25 80.33,8.58 84,10 C87.67,11.42 93.87,11.9 99,13.5 C104.13,15.1 110.63,18.18 114.8,19.6 C118.97,21.02 120.72,21.22 124,22 C127.28,22.78 130.5,24.13 134.5,24.3 C138.5,24.47 144.17,23.63 148,23 C151.83,22.37 154.55,21.77 157.5,20.5 C160.45,19.23 163.62,17.15 165.7,15.4 C167.78,13.65 168.45,12.23 170,10 C171.55,7.77 173.67,4.5 175,2 C176.33,-0.5 172.17,-3.67 178,-5 C183.83,-6.33 204.67,-5.83 210,-6 L215,125 L-15,125 Z" fill="#2828d8"/><path d="M-15,-3 C-10.83,-2.5 4.33,-0.83 10,0 C15.67,0.83 14.5,1 19,2 C23.5,3 32.83,5.08 37,6 C41.17,6.92 40.58,6.97 44,7.5 C47.42,8.03 52,8.45 57.5,9.2 C63,9.95 71.5,10.5 77,12 C82.5,13.5 86.83,16.7 90.5,18.2 C94.17,19.7 94.95,19.12 99,21 C103.05,22.88 110.63,27.5 114.8,29.5 C118.97,31.5 120.72,31.82 124,33 C127.28,34.18 131,36.35 134.5,36.6 C138,36.85 142,35.23 145,34.5 C148,33.77 150.42,32.83 152.5,32.2 C154.58,31.57 155.3,32.13 157.5,30.7 C159.7,29.27 163.62,26.55 165.7,23.6 C167.78,20.65 168.45,16.1 170,13 C171.55,9.9 173.33,8 175,5 C176.67,2 174.17,-3.17 180,-5 C185.83,-6.83 205,-5.83 210,-6 L215,125 L-15,125 Z" fill="#1438fc"/><path d="M-15,8 C-11.83,8.08 -0.58,8.38 4,8.5 C8.58,8.62 10,8.45 12.5,8.7 C15,8.95 14.92,8.95 19,10 C23.08,11.05 32.83,14.08 37,15 C41.17,15.92 40.58,15.1 44,15.5 C47.42,15.9 52,16.48 57.5,17.4 C63,18.32 71.5,19.33 77,21 C82.5,22.67 86.83,25.73 90.5,27.4 C94.17,29.07 94.95,28.87 99,31 C103.05,33.13 110.63,38.45 114.8,40.2 C118.97,41.95 120.72,41.23 124,41.5 C127.28,41.77 131,41.8 134.5,41.8 C138,41.8 142,41.73 145,41.5 C148,41.27 150.42,41.17 152.5,40.4 C154.58,39.63 155.3,38.17 157.5,36.9 C159.7,35.63 163.72,34.72 165.7,32.8 C167.68,30.88 168.02,27.87 169.4,25.4 C170.78,22.93 172.57,20.57 174,18 C175.43,15.43 176.17,13 178,10 C179.83,7 179.67,2.5 185,0 C190.33,-2.5 205.83,-4.17 210,-5 L215,125 L-15,125 Z" fill="#1452c2"/><path d="M-15,16.5 C-11.83,16.58 -0.58,16.93 4,17 C8.58,17.07 10,16.73 12.5,16.9 C15,17.07 14.92,17.23 19,18 C23.08,18.77 32.83,20.75 37,21.5 C41.17,22.25 40.58,21.98 44,22.5 C47.42,23.02 52,23.68 57.5,24.6 C63,25.52 71.5,26.5 77,28 C82.5,29.5 86.83,32.1 90.5,33.6 C94.17,35.1 94.95,35.17 99,37 C103.05,38.83 110.63,43.18 114.8,44.6 C118.97,46.02 120.72,45.28 124,45.5 C127.28,45.72 131,45.9 134.5,45.9 C138,45.9 142,45.73 145,45.5 C148,45.27 150.42,45.25 152.5,44.5 C154.58,43.75 155.3,42.27 157.5,41 C159.7,39.73 163.72,38.48 165.7,36.9 C167.68,35.32 167.58,34.28 169.4,31.5 C171.22,28.72 174.5,23.45 176.6,20.2 C178.7,16.95 179.77,14.37 182,12 C184.23,9.63 185.33,7.5 190,6 C194.67,4.5 206.67,3.5 210,3 L215,125 L-15,125 Z" fill="#1f7f72"/><path d="M-15,25 C-11.83,25.08 -0.58,25.4 4,25.5 C8.58,25.6 10,25.6 12.5,25.6 C15,25.6 14.92,24.93 19,25.5 C23.08,26.07 32.83,28.42 37,29 C41.17,29.58 40.58,28.72 44,29 C47.42,29.28 52,29.53 57.5,30.7 C63,31.87 71.5,33.82 77,36 C82.5,38.18 86.83,42.3 90.5,43.8 C94.17,45.3 94.95,44.12 99,45 C103.05,45.88 110.63,48.18 114.8,49.1 C118.97,50.02 120.72,50.18 124,50.5 C127.28,50.82 131,51.17 134.5,51 C138,50.83 142,49.98 145,49.5 C148,49.02 150.42,49.02 152.5,48.1 C154.58,47.18 155.3,45.35 157.5,44 C159.7,42.65 163.72,41.4 165.7,40 C167.68,38.6 167.58,38.22 169.4,35.6 C171.22,32.98 174.5,27.23 176.6,24.3 C178.7,21.37 179.77,20.05 182,18 C184.23,15.95 185.33,13.33 190,12 C194.67,10.67 206.67,10.33 210,10 L215,125 L-15,125 Z" fill="#22b032"/><path d="M-15,35 C-11.83,35.1 -0.58,35.37 4,35.6 C8.58,35.83 10,36.58 12.5,36.4 C15,36.22 14.92,34.9 19,34.5 C23.08,34.1 32.83,34 37,34 C41.17,34 40.58,34.28 44,34.5 C47.42,34.72 51.83,34.22 57.5,35.3 C63.17,36.38 72.5,38.38 78,41 C83.5,43.62 87,49 90.5,51 C94,53 94.95,51.83 99,53 C103.05,54.17 110.3,57.17 114.8,58 C119.3,58.83 122.3,58.33 126,58 C129.7,57.67 133.83,56.5 137,56 C140.17,55.5 142.42,55.38 145,55 C147.58,54.62 150.42,54.53 152.5,53.7 C154.58,52.87 155.3,51.62 157.5,50 C159.7,48.38 163.72,45.55 165.7,44 C167.68,42.45 167.58,43.3 169.4,40.7 C171.22,38.1 174.5,31.52 176.6,28.4 C178.7,25.28 179.77,23.9 182,22 C184.23,20.1 185.33,18.17 190,17 C194.67,15.83 206.67,15.33 210,15 L215,125 L-15,125 Z" fill="#62c842"/><path d="M-15,45 C-10.83,44.5 4.33,43.08 10,42 C15.67,40.92 14.5,39 19,38.5 C23.5,38 32.83,38.92 37,39 C41.17,39.08 40.58,39.02 44,39 C47.42,38.98 51.83,37.57 57.5,38.9 C63.17,40.23 72.58,44.48 78,47 C83.42,49.52 84.67,51.83 90,54 C95.33,56.17 104,58.58 110,60 C116,61.42 121,63 126,62.5 C131,62 135.58,58.25 140,57 C144.42,55.75 149.58,55.67 152.5,55 C155.42,54.33 155.3,54.17 157.5,53 C159.7,51.83 163.72,49.18 165.7,48 C167.68,46.82 167.58,47.97 169.4,45.9 C171.22,43.83 174.38,38.85 176.6,35.6 C178.82,32.35 180.47,28.67 182.7,26.4 C184.93,24.13 185.45,23.07 190,22 C194.55,20.93 206.67,20.33 210,20 L215,125 L-15,125 Z" fill="#b2e03e"/><path d="M-15,50 C-10.83,49.67 4.17,49 10,48 C15.83,47 15.5,45 20,44 C24.5,43 33,42.33 37,42 C41,41.67 40.58,42 44,42 C47.42,42 52.83,40.33 57.5,42 C62.17,43.67 68.58,49.5 72,52 C75.42,54.5 75,55.17 78,57 C81,58.83 84.67,61.17 90,63 C95.33,64.83 100,66.83 110,68 C120,69.17 140.83,71.33 150,70 C159.17,68.67 161.77,63.17 165,60 C168.23,56.83 167.47,53.7 169.4,51 C171.33,48.3 174.38,46.88 176.6,43.8 C178.82,40.72 180.8,35.13 182.7,32.5 C184.6,29.87 183.45,29.08 188,28 C192.55,26.92 206.33,26.33 210,26 L215,125 L-15,125 Z" fill="#fff03c"/><path d="M16,112 L18,100 L22,85 L26,70 L27,58 L29,53 L35,51.5 L50,51 L60,51 L68,53 L74,58 L78,66 L70,85 L60,100 L50,112 Z" fill="#ffd840"/><path d="M22,112 L24,90 L28,75 L31,64 L34,59 L40,57.5 L55,57 L64,58 L70,62 L74,72 L65,88 L55,112 Z" fill="#ffb83a"/><path d="M28,112 L30,95 L35,80 L38,71 L42,66 L50,64.5 L60,65 L67,69 L66,80 L60,100 L55,112 Z" fill="#ffa030"/><path d="M38,112 L40,102 L43,90 L45,78 L47,72.5 L50.4,70.6 L54,71.5 L56.6,74.3 L60,80 L66,90 L70,100 L68,112 Z" fill="#ff7020"/><path d="M-5,80 L5,84 L10,90 L19,100 L22,112 L-5,112 Z" fill="#ff7020"/><path d="M-5,92 L0.3,92 L5.3,93.4 L9.3,95 L14,100 L17,112 L-5,112 Z" fill="#ff4024"/><path d="M196,24 C194.73,24.8 189.9,27.13 188.4,28.8 C186.9,30.47 187,32.13 187,34 C187,35.87 186.9,38.67 188.4,40 C189.9,41.33 194.73,41.67 196,42 Z" fill="#ffd840"/><path d="M43,109 L44,102.7 L46,100.7 L50,99.2 L55,97.7 L57,96.9 L61.4,97.2 L62.9,101.2 L66.5,102 L68.9,101.7 L69.9,98.7 L66.9,94.7 L63.9,89.7 L61.4,85.7 L58.9,81.8 L57.2,78.5 L56.8,76.5 L58.7,74.7 L62.4,74 L66.2,72.2 L69.3,69.7 L70.5,65.9 L73,63.5 L76.7,62.2 L79.9,59.7 L83.6,58.5 L87.3,57.2 L89.8,54.8 L92.3,53.5 L96,56 L100,58.5 L102,59.6 L105.5,58.7 L108.9,61.4 L112.4,61.4 L117.6,62.2 L122.9,62.2 L128.1,63.1 L132.5,61.4 L136.8,62.2 L142,63.6 L147.3,64.3 L152.5,65.4 L157.7,66.6 L159.2,66.2 L160.4,61.7 L162.9,59.2 L165.4,58.3 L168.8,55 L171.3,50.8 L174.6,50 L176.3,48.3 L177.1,45.8 L178,43.3 L179.6,42.4 L183,43.3 L185.5,45 L188.8,45.8 L191.3,44.1 L192.2,41.6 L196,40.5 L196,109 Z" fill="#fff" stroke="#444" stroke-width="0.5"/><path d="M-1,42 L1.5,42.5 L4,44.8 L7.5,48.5 L10.5,52.5 L13.2,56.6 L16,61.5 L18.8,66.3 L21.5,70.8 L23.6,75 L24.7,79 L25.4,81.6 L26.5,82.8 L29.9,84.7 L32.5,86.5 L34.8,88 L37.3,94.7 L40.4,96.5 L37.3,98.4 L33.6,99.7 L29.9,100.3 L27.4,103.4 L24.9,105.9 L23,109 L18.7,109 L14.9,103.4 L13.7,99.7 L12.4,95.9 L7.5,93.4 L5,92.2 L4.5,87 L4.5,83 L-1,82.2 Z" fill="#fff" stroke="#444" stroke-width="0.5"/><path d="M175.7,-1 L175.7,0.8 L172.1,6.2 L173.9,7.9 L176.9,10.9 L178.1,14.5 L178.7,19.3 L179.3,25.3 L183.4,26.5 L187,27.7 L190,30 L191.8,27.7 L193.4,25.5 L194,22.5 L193.1,18.5 L193.2,8 L194.2,6 L196,5 L196,-1 Z" fill="#fff" stroke="#444" stroke-width="0.5"/><path d="M17,40.6 C17.6,38.2 20.8,36.3 24,36.3 C27.2,36.3 29.6,38.6 30,41.2 C28.8,43 26,43.5 23,43.1 C20,42.8 17.4,42 17,40.6 Z" fill="#fff" stroke="#444" stroke-width="0.5"/><g fill="none" stroke="#2a2a2a" stroke-width="0.6" stroke-dasharray="1.6 0.9"><path d="M22,-0.6 C22.48,-0.43 23.18,-0.37 24.9,0.4 C26.62,1.17 29.82,2.8 32.3,4 C34.78,5.2 36.88,6.38 39.8,7.6 C42.72,8.82 46.48,10.22 49.8,11.3 C53.12,12.38 56.38,13.3 59.7,14.1 C63.02,14.9 66.32,15.57 69.7,16.1 C73.08,16.63 76.62,17 80,17.3 C83.38,17.6 86.67,17.8 90,17.9 C93.33,18 97.1,17.98 100,17.9 C102.9,17.82 104.08,17.83 107.4,17.4 C110.72,16.97 115.75,16.15 119.9,15.3 C124.05,14.45 128.15,13.42 132.3,12.3 C136.45,11.18 140.65,9.88 144.8,8.6 C148.95,7.32 153.68,5.85 157.2,4.6 C160.72,3.35 164.02,1.97 165.9,1.1 C167.78,0.23 168.07,-0.32 168.5,-0.6"/><path d="M37.4,-0.6 L-1,88.3"/><path d="M70.7,16.2 L55.2,109"/><path d="M107.4,17.4 L115.6,109"/><path d="M144.8,8.6 L177.2,109"/><path d="M181.6,-0.6 L196,22"/></g><path d="M6.91,-1.1L6.81,0.1M13.91,-1.1L13.81,0.1M20.91,-1.1L20.81,0.1M27.91,-1.1L27.81,0.1M34.91,-1.1L34.81,0.1M41.91,-1.1L41.81,0.1M48.91,-1.1L48.81,0.1M57.06,-0.14L55.9,0.17M64.06,-0.14L62.9,0.17M71.06,-0.14L69.9,0.17M78.06,-0.14L76.9,0.17M85.06,-0.14L83.9,0.17M92.06,-0.14L90.9,0.17M99.06,-0.14L97.9,0.17M106.06,-0.14L104.9,0.17M113.06,-0.14L111.9,0.17M120.06,-0.14L118.9,0.17M127.06,-0.14L125.9,0.17M134.06,-0.14L132.9,0.17M141.06,-0.14L139.9,0.17M148.06,-0.14L146.9,0.17M155.06,-0.14L153.9,0.17M162.06,-0.14L160.9,0.17M169.06,-0.14L167.9,0.17M176.06,-0.14L174.9,0.17M6.91,6.1L6.81,7.3M13.91,6.1L13.81,7.3M20.91,6.1L20.81,7.3M27.91,6.1L27.81,7.3M34.91,6.1L34.81,7.3M41.91,6.1L41.81,7.3M48.91,6.1L48.81,7.3M57.06,7.06L55.9,7.37M64.06,7.06L62.9,7.37M71.06,7.06L69.9,7.37M78.06,7.06L76.9,7.37M85.06,7.06L83.9,7.37M92.06,7.06L90.9,7.37M99.06,7.06L97.9,7.37M106.06,7.06L104.9,7.37M113.06,7.06L111.9,7.37M120.06,7.06L118.9,7.37M127.06,7.06L125.9,7.37M134.06,7.06L132.9,7.37M141.06,7.06L139.9,7.37M148.06,7.06L146.9,7.37M155.06,7.06L153.9,7.37M162.06,7.06L160.9,7.37M169.06,7.06L167.9,7.37M6.91,13.3L6.81,14.5M13.91,13.3L13.81,14.5M20.91,13.3L20.81,14.5M27.91,13.3L27.81,14.5M34.91,13.3L34.81,14.5M41.91,13.3L41.81,14.5M48.91,13.3L48.81,14.5M57.06,14.26L55.9,14.57M64.06,14.26L62.9,14.57M71.06,14.26L69.9,14.57M78.06,14.26L76.9,14.57M85.06,14.26L83.9,14.57M92.06,14.26L90.9,14.57M99.06,14.26L97.9,14.57M106.06,14.26L104.9,14.57M113.06,14.26L111.9,14.57M120.06,14.26L118.9,14.57M127.06,14.26L125.9,14.57M134.06,14.26L132.9,14.57M141.06,14.26L139.9,14.57M148.06,14.26L146.9,14.57M155.06,14.26L153.9,14.57M162.06,14.26L160.9,14.57M169.06,14.26L167.9,14.57M176.06,14.26L174.9,14.57M6.91,20.5L6.81,21.7M13.91,20.5L13.81,21.7M20.91,20.5L20.81,21.7M27.91,20.5L27.81,21.7M34.91,20.5L34.81,21.7M41.91,20.5L41.81,21.7M48.91,20.5L48.81,21.7M57.06,21.46L55.9,21.77M64.06,21.46L62.9,21.77M71.06,21.46L69.9,21.77M78.06,21.46L76.9,21.77M85.06,21.46L83.9,21.77M92.06,21.46L90.9,21.77M99.06,21.46L97.9,21.77M106.06,21.46L104.9,21.77M113.06,21.46L111.9,21.77M120.06,21.46L118.9,21.77M127.06,21.46L125.9,21.77M134.06,21.46L132.9,21.77M141.06,21.46L139.9,21.77M148.06,21.46L146.9,21.77M155.06,21.46L153.9,21.77M162.06,21.46L160.9,21.77M169.06,21.46L167.9,21.77M176.06,21.46L174.9,21.77M6.91,27.7L6.81,28.9M13.91,27.7L13.81,28.9M20.91,27.7L20.81,28.9M27.91,27.7L27.81,28.9M34.91,27.7L34.81,28.9M41.91,27.7L41.81,28.9M48.91,27.7L48.81,28.9M57.06,28.66L55.9,28.97M64.06,28.66L62.9,28.97M71.06,28.66L69.9,28.97M78.06,28.66L76.9,28.97M85.06,28.66L83.9,28.97M92.06,28.66L90.9,28.97M99.06,28.66L97.9,28.97M106.06,28.66L104.9,28.97M113.06,28.66L111.9,28.97M120.06,28.66L118.9,28.97M127.06,28.66L125.9,28.97M134.06,28.66L132.9,28.97M141.06,28.66L139.9,28.97M148.06,28.66L146.9,28.97M155.06,28.66L153.9,28.97M162.06,28.66L160.9,28.97M169.06,28.66L167.9,28.97M176.06,28.66L174.9,28.97M183.06,28.66L181.9,28.97M6.91,34.9L6.81,36.1M13.91,34.9L13.81,36.1M34.91,34.9L34.81,36.1M41.91,34.9L41.81,36.1M48.91,34.9L48.81,36.1M57.06,35.86L55.9,36.17M64.06,35.86L62.9,36.17M71.06,35.86L69.9,36.17M78.06,35.86L76.9,36.17M85.06,35.86L83.9,36.17M92.06,35.86L90.9,36.17M99.06,35.86L97.9,36.17M106.06,35.86L104.9,36.17M113.06,35.86L111.9,36.17M120.06,35.86L118.9,36.17M127.06,35.86L125.9,36.17M134.06,35.86L132.9,36.17M141.06,35.86L139.9,36.17M148.06,35.86L146.9,36.17M155.06,35.86L153.9,36.17M162.06,35.86L160.9,36.17M169.06,35.86L167.9,36.17M176.06,35.86L174.9,36.17M183.06,35.86L181.9,36.17M190.06,35.86L188.9,36.17M8.57,43.09L6.41,43.47M15.57,43.09L13.41,43.47M36.57,43.09L34.41,43.47M43.57,43.09L41.41,43.47M50.57,43.09L48.41,43.47M57.57,43.09L55.41,43.47M64.57,43.09L62.41,43.47M71.57,43.09L69.41,43.47M78.57,43.09L76.41,43.47M85.57,43.09L83.41,43.47M92.57,43.09L90.41,43.47M99.57,43.09L97.41,43.47M106.06,43.06L104.9,43.37M113.06,43.06L111.9,43.37M120.06,43.06L118.9,43.37M127.06,43.06L125.9,43.37M134.06,43.06L132.9,43.37M141.06,43.06L139.9,43.37M148.06,43.06L146.9,43.37M155.06,43.06L153.9,43.37M162.06,43.06L160.9,43.37M169.06,43.06L167.9,43.37M176.06,43.06L174.9,43.37M190.06,43.06L188.9,43.37M15.57,50.29L13.41,50.67M22.57,50.29L20.41,50.67M29.57,50.29L27.41,50.67M36.57,50.29L34.41,50.67M43.57,50.29L41.41,50.67M50.57,50.29L48.41,50.67M57.57,50.29L55.41,50.67M64.57,50.29L62.41,50.67M71.57,50.29L69.41,50.67M78.57,50.29L76.41,50.67M85.57,50.29L83.41,50.67M92.57,50.29L90.41,50.67M99.57,50.29L97.41,50.67M106.06,50.26L104.9,50.57M113.06,50.26L111.9,50.57M120.06,50.26L118.9,50.57M127.06,50.26L125.9,50.57M134.06,50.26L132.9,50.57M141.06,50.26L139.9,50.57M148.06,50.26L146.9,50.57M155.06,50.26L153.9,50.57M162.06,50.26L160.9,50.57M169.06,50.26L167.9,50.57M22.57,57.49L20.41,57.87M29.57,57.49L27.41,57.87M36.57,57.49L34.41,57.87M43.57,57.49L41.41,57.87M50.57,57.49L48.41,57.87M57.57,57.49L55.41,57.87M64.57,57.49L62.41,57.87M71.57,57.49L69.41,57.87M78.57,57.49L76.41,57.87M85.57,57.49L83.41,57.87M106.06,57.46L104.9,57.77M113.06,57.46L111.9,57.77M120.06,57.46L118.9,57.77M127.06,57.46L125.9,57.77M134.06,57.46L132.9,57.77M141.06,57.46L139.9,57.77M148.06,57.46L146.9,57.77M155.06,57.46L153.9,57.77M162.06,57.46L160.9,57.77M22.57,64.69L20.41,65.07M29.57,64.69L27.41,65.07M36.57,64.69L34.41,65.07M43.57,64.69L41.41,65.07M50.57,64.69L48.41,65.07M57.57,64.69L55.41,65.07M64.57,64.69L62.41,65.07M71.57,64.69L69.41,65.07M155.06,64.66L153.9,64.97M29.57,71.89L27.41,72.27M36.57,71.89L34.41,72.27M43.57,71.89L41.41,72.27M50.57,71.89L48.41,72.27M57.57,71.89L55.41,72.27M64.57,71.89L62.41,72.27M29.07,78.13L27.52,79.68M36.07,78.13L34.52,79.68M43.07,78.13L41.52,79.68M50.07,78.13L48.52,79.68M57.07,78.13L55.52,79.68M36.07,85.33L34.52,86.88M43.07,85.33L41.52,86.88M50.07,85.33L48.52,86.88M57.07,85.33L55.52,86.88M8.07,92.53L6.52,94.08M43.07,92.53L41.52,94.08M50.07,92.53L48.52,94.08M57.07,92.53L55.52,94.08M64.07,92.53L62.52,94.08M8.07,99.73L6.52,101.28M15.07,99.73L13.52,101.28M36.07,99.73L34.52,101.28M43.07,99.73L41.52,101.28M8.07,106.93L6.52,108.48M15.07,106.93L13.52,108.48M29.07,106.93L27.52,108.48M36.07,106.93L34.52,108.48M43.07,106.93L41.52,108.48" stroke="#111" stroke-width="0.6" fill="none"/><path d="M6.69,1.5L6.01,0.03L7.61,0.17ZM13.69,1.5L13.01,0.03L14.61,0.17ZM20.69,1.5L20.01,0.03L21.61,0.17ZM27.69,1.5L27.01,0.03L28.61,0.17ZM34.69,1.5L34.01,0.03L35.61,0.17ZM41.69,1.5L41.01,0.03L42.61,0.17ZM48.69,1.5L48.01,0.03L49.61,0.17ZM54.54,0.54L55.69,-0.6L56.1,0.95ZM61.54,0.54L62.69,-0.6L63.1,0.95ZM68.54,0.54L69.69,-0.6L70.1,0.95ZM75.54,0.54L76.69,-0.6L77.1,0.95ZM82.54,0.54L83.69,-0.6L84.1,0.95ZM89.54,0.54L90.69,-0.6L91.1,0.95ZM96.54,0.54L97.69,-0.6L98.1,0.95ZM103.54,0.54L104.69,-0.6L105.1,0.95ZM110.54,0.54L111.69,-0.6L112.1,0.95ZM117.54,0.54L118.69,-0.6L119.1,0.95ZM124.54,0.54L125.69,-0.6L126.1,0.95ZM131.54,0.54L132.69,-0.6L133.1,0.95ZM138.54,0.54L139.69,-0.6L140.1,0.95ZM145.54,0.54L146.69,-0.6L147.1,0.95ZM152.54,0.54L153.69,-0.6L154.1,0.95ZM159.54,0.54L160.69,-0.6L161.1,0.95ZM166.54,0.54L167.69,-0.6L168.1,0.95ZM173.54,0.54L174.69,-0.6L175.1,0.95ZM6.69,8.7L6.01,7.23L7.61,7.37ZM13.69,8.7L13.01,7.23L14.61,7.37ZM20.69,8.7L20.01,7.23L21.61,7.37ZM27.69,8.7L27.01,7.23L28.61,7.37ZM34.69,8.7L34.01,7.23L35.61,7.37ZM41.69,8.7L41.01,7.23L42.61,7.37ZM48.69,8.7L48.01,7.23L49.61,7.37ZM54.54,7.74L55.69,6.6L56.1,8.15ZM61.54,7.74L62.69,6.6L63.1,8.15ZM68.54,7.74L69.69,6.6L70.1,8.15ZM75.54,7.74L76.69,6.6L77.1,8.15ZM82.54,7.74L83.69,6.6L84.1,8.15ZM89.54,7.74L90.69,6.6L91.1,8.15ZM96.54,7.74L97.69,6.6L98.1,8.15ZM103.54,7.74L104.69,6.6L105.1,8.15ZM110.54,7.74L111.69,6.6L112.1,8.15ZM117.54,7.74L118.69,6.6L119.1,8.15ZM124.54,7.74L125.69,6.6L126.1,8.15ZM131.54,7.74L132.69,6.6L133.1,8.15ZM138.54,7.74L139.69,6.6L140.1,8.15ZM145.54,7.74L146.69,6.6L147.1,8.15ZM152.54,7.74L153.69,6.6L154.1,8.15ZM159.54,7.74L160.69,6.6L161.1,8.15ZM166.54,7.74L167.69,6.6L168.1,8.15ZM6.69,15.9L6.01,14.43L7.61,14.57ZM13.69,15.9L13.01,14.43L14.61,14.57ZM20.69,15.9L20.01,14.43L21.61,14.57ZM27.69,15.9L27.01,14.43L28.61,14.57ZM34.69,15.9L34.01,14.43L35.61,14.57ZM41.69,15.9L41.01,14.43L42.61,14.57ZM48.69,15.9L48.01,14.43L49.61,14.57ZM54.54,14.94L55.69,13.8L56.1,15.35ZM61.54,14.94L62.69,13.8L63.1,15.35ZM68.54,14.94L69.69,13.8L70.1,15.35ZM75.54,14.94L76.69,13.8L77.1,15.35ZM82.54,14.94L83.69,13.8L84.1,15.35ZM89.54,14.94L90.69,13.8L91.1,15.35ZM96.54,14.94L97.69,13.8L98.1,15.35ZM103.54,14.94L104.69,13.8L105.1,15.35ZM110.54,14.94L111.69,13.8L112.1,15.35ZM117.54,14.94L118.69,13.8L119.1,15.35ZM124.54,14.94L125.69,13.8L126.1,15.35ZM131.54,14.94L132.69,13.8L133.1,15.35ZM138.54,14.94L139.69,13.8L140.1,15.35ZM145.54,14.94L146.69,13.8L147.1,15.35ZM152.54,14.94L153.69,13.8L154.1,15.35ZM159.54,14.94L160.69,13.8L161.1,15.35ZM166.54,14.94L167.69,13.8L168.1,15.35ZM173.54,14.94L174.69,13.8L175.1,15.35ZM6.69,23.1L6.01,21.63L7.61,21.77ZM13.69,23.1L13.01,21.63L14.61,21.77ZM20.69,23.1L20.01,21.63L21.61,21.77ZM27.69,23.1L27.01,21.63L28.61,21.77ZM34.69,23.1L34.01,21.63L35.61,21.77ZM41.69,23.1L41.01,21.63L42.61,21.77ZM48.69,23.1L48.01,21.63L49.61,21.77ZM54.54,22.14L55.69,21L56.1,22.55ZM61.54,22.14L62.69,21L63.1,22.55ZM68.54,22.14L69.69,21L70.1,22.55ZM75.54,22.14L76.69,21L77.1,22.55ZM82.54,22.14L83.69,21L84.1,22.55ZM89.54,22.14L90.69,21L91.1,22.55ZM96.54,22.14L97.69,21L98.1,22.55ZM103.54,22.14L104.69,21L105.1,22.55ZM110.54,22.14L111.69,21L112.1,22.55ZM117.54,22.14L118.69,21L119.1,22.55ZM124.54,22.14L125.69,21L126.1,22.55ZM131.54,22.14L132.69,21L133.1,22.55ZM138.54,22.14L139.69,21L140.1,22.55ZM145.54,22.14L146.69,21L147.1,22.55ZM152.54,22.14L153.69,21L154.1,22.55ZM159.54,22.14L160.69,21L161.1,22.55ZM166.54,22.14L167.69,21L168.1,22.55ZM173.54,22.14L174.69,21L175.1,22.55ZM6.69,30.3L6.01,28.83L7.61,28.97ZM13.69,30.3L13.01,28.83L14.61,28.97ZM20.69,30.3L20.01,28.83L21.61,28.97ZM27.69,30.3L27.01,28.83L28.61,28.97ZM34.69,30.3L34.01,28.83L35.61,28.97ZM41.69,30.3L41.01,28.83L42.61,28.97ZM48.69,30.3L48.01,28.83L49.61,28.97ZM54.54,29.34L55.69,28.2L56.1,29.75ZM61.54,29.34L62.69,28.2L63.1,29.75ZM68.54,29.34L69.69,28.2L70.1,29.75ZM75.54,29.34L76.69,28.2L77.1,29.75ZM82.54,29.34L83.69,28.2L84.1,29.75ZM89.54,29.34L90.69,28.2L91.1,29.75ZM96.54,29.34L97.69,28.2L98.1,29.75ZM103.54,29.34L104.69,28.2L105.1,29.75ZM110.54,29.34L111.69,28.2L112.1,29.75ZM117.54,29.34L118.69,28.2L119.1,29.75ZM124.54,29.34L125.69,28.2L126.1,29.75ZM131.54,29.34L132.69,28.2L133.1,29.75ZM138.54,29.34L139.69,28.2L140.1,29.75ZM145.54,29.34L146.69,28.2L147.1,29.75ZM152.54,29.34L153.69,28.2L154.1,29.75ZM159.54,29.34L160.69,28.2L161.1,29.75ZM166.54,29.34L167.69,28.2L168.1,29.75ZM173.54,29.34L174.69,28.2L175.1,29.75ZM180.54,29.34L181.69,28.2L182.1,29.75ZM6.69,37.5L6.01,36.03L7.61,36.17ZM13.69,37.5L13.01,36.03L14.61,36.17ZM34.69,37.5L34.01,36.03L35.61,36.17ZM41.69,37.5L41.01,36.03L42.61,36.17ZM48.69,37.5L48.01,36.03L49.61,36.17ZM54.54,36.54L55.69,35.4L56.1,36.95ZM61.54,36.54L62.69,35.4L63.1,36.95ZM68.54,36.54L69.69,35.4L70.1,36.95ZM75.54,36.54L76.69,35.4L77.1,36.95ZM82.54,36.54L83.69,35.4L84.1,36.95ZM89.54,36.54L90.69,35.4L91.1,36.95ZM96.54,36.54L97.69,35.4L98.1,36.95ZM103.54,36.54L104.69,35.4L105.1,36.95ZM110.54,36.54L111.69,35.4L112.1,36.95ZM117.54,36.54L118.69,35.4L119.1,36.95ZM124.54,36.54L125.69,35.4L126.1,36.95ZM131.54,36.54L132.69,35.4L133.1,36.95ZM138.54,36.54L139.69,35.4L140.1,36.95ZM145.54,36.54L146.69,35.4L147.1,36.95ZM152.54,36.54L153.69,35.4L154.1,36.95ZM159.54,36.54L160.69,35.4L161.1,36.95ZM166.54,36.54L167.69,35.4L168.1,36.95ZM173.54,36.54L174.69,35.4L175.1,36.95ZM180.54,36.54L181.69,35.4L182.1,36.95ZM187.54,36.54L188.69,35.4L189.1,36.95ZM5.03,43.71L6.27,42.68L6.54,44.26ZM12.03,43.71L13.27,42.68L13.54,44.26ZM33.03,43.71L34.27,42.68L34.54,44.26ZM40.03,43.71L41.27,42.68L41.54,44.26ZM47.03,43.71L48.27,42.68L48.54,44.26ZM54.03,43.71L55.27,42.68L55.54,44.26ZM61.03,43.71L62.27,42.68L62.54,44.26ZM68.03,43.71L69.27,42.68L69.54,44.26ZM75.03,43.71L76.27,42.68L76.54,44.26ZM82.03,43.71L83.27,42.68L83.54,44.26ZM89.03,43.71L90.27,42.68L90.54,44.26ZM96.03,43.71L97.27,42.68L97.54,44.26ZM103.54,43.74L104.69,42.6L105.1,44.15ZM110.54,43.74L111.69,42.6L112.1,44.15ZM117.54,43.74L118.69,42.6L119.1,44.15ZM124.54,43.74L125.69,42.6L126.1,44.15ZM131.54,43.74L132.69,42.6L133.1,44.15ZM138.54,43.74L139.69,42.6L140.1,44.15ZM145.54,43.74L146.69,42.6L147.1,44.15ZM152.54,43.74L153.69,42.6L154.1,44.15ZM159.54,43.74L160.69,42.6L161.1,44.15ZM166.54,43.74L167.69,42.6L168.1,44.15ZM173.54,43.74L174.69,42.6L175.1,44.15ZM187.54,43.74L188.69,42.6L189.1,44.15ZM12.03,50.91L13.27,49.88L13.54,51.46ZM19.03,50.91L20.27,49.88L20.54,51.46ZM26.03,50.91L27.27,49.88L27.54,51.46ZM33.03,50.91L34.27,49.88L34.54,51.46ZM40.03,50.91L41.27,49.88L41.54,51.46ZM47.03,50.91L48.27,49.88L48.54,51.46ZM54.03,50.91L55.27,49.88L55.54,51.46ZM61.03,50.91L62.27,49.88L62.54,51.46ZM68.03,50.91L69.27,49.88L69.54,51.46ZM75.03,50.91L76.27,49.88L76.54,51.46ZM82.03,50.91L83.27,49.88L83.54,51.46ZM89.03,50.91L90.27,49.88L90.54,51.46ZM96.03,50.91L97.27,49.88L97.54,51.46ZM103.54,50.94L104.69,49.8L105.1,51.35ZM110.54,50.94L111.69,49.8L112.1,51.35ZM117.54,50.94L118.69,49.8L119.1,51.35ZM124.54,50.94L125.69,49.8L126.1,51.35ZM131.54,50.94L132.69,49.8L133.1,51.35ZM138.54,50.94L139.69,49.8L140.1,51.35ZM145.54,50.94L146.69,49.8L147.1,51.35ZM152.54,50.94L153.69,49.8L154.1,51.35ZM159.54,50.94L160.69,49.8L161.1,51.35ZM166.54,50.94L167.69,49.8L168.1,51.35ZM19.03,58.11L20.27,57.08L20.54,58.66ZM26.03,58.11L27.27,57.08L27.54,58.66ZM33.03,58.11L34.27,57.08L34.54,58.66ZM40.03,58.11L41.27,57.08L41.54,58.66ZM47.03,58.11L48.27,57.08L48.54,58.66ZM54.03,58.11L55.27,57.08L55.54,58.66ZM61.03,58.11L62.27,57.08L62.54,58.66ZM68.03,58.11L69.27,57.08L69.54,58.66ZM75.03,58.11L76.27,57.08L76.54,58.66ZM82.03,58.11L83.27,57.08L83.54,58.66ZM103.54,58.14L104.69,57L105.1,58.55ZM110.54,58.14L111.69,57L112.1,58.55ZM117.54,58.14L118.69,57L119.1,58.55ZM124.54,58.14L125.69,57L126.1,58.55ZM131.54,58.14L132.69,57L133.1,58.55ZM138.54,58.14L139.69,57L140.1,58.55ZM145.54,58.14L146.69,57L147.1,58.55ZM152.54,58.14L153.69,57L154.1,58.55ZM159.54,58.14L160.69,57L161.1,58.55ZM19.03,65.31L20.27,64.28L20.54,65.86ZM26.03,65.31L27.27,64.28L27.54,65.86ZM33.03,65.31L34.27,64.28L34.54,65.86ZM40.03,65.31L41.27,64.28L41.54,65.86ZM47.03,65.31L48.27,64.28L48.54,65.86ZM54.03,65.31L55.27,64.28L55.54,65.86ZM61.03,65.31L62.27,64.28L62.54,65.86ZM68.03,65.31L69.27,64.28L69.54,65.86ZM152.54,65.34L153.69,64.2L154.1,65.75ZM26.03,72.51L27.27,71.48L27.54,73.06ZM33.03,72.51L34.27,71.48L34.54,73.06ZM40.03,72.51L41.27,71.48L41.54,73.06ZM47.03,72.51L48.27,71.48L48.54,73.06ZM54.03,72.51L55.27,71.48L55.54,73.06ZM61.03,72.51L62.27,71.48L62.54,73.06ZM26.53,80.67L26.95,79.12L28.08,80.25ZM33.53,80.67L33.95,79.12L35.08,80.25ZM40.53,80.67L40.95,79.12L42.08,80.25ZM47.53,80.67L47.95,79.12L49.08,80.25ZM54.53,80.67L54.95,79.12L56.08,80.25ZM33.53,87.87L33.95,86.32L35.08,87.45ZM40.53,87.87L40.95,86.32L42.08,87.45ZM47.53,87.87L47.95,86.32L49.08,87.45ZM54.53,87.87L54.95,86.32L56.08,87.45ZM5.53,95.07L5.95,93.52L7.08,94.65ZM40.53,95.07L40.95,93.52L42.08,94.65ZM47.53,95.07L47.95,93.52L49.08,94.65ZM54.53,95.07L54.95,93.52L56.08,94.65ZM61.53,95.07L61.95,93.52L63.08,94.65ZM5.53,102.27L5.95,100.72L7.08,101.85ZM12.53,102.27L12.95,100.72L14.08,101.85ZM33.53,102.27L33.95,100.72L35.08,101.85ZM40.53,102.27L40.95,100.72L42.08,101.85ZM5.53,109.47L5.95,107.92L7.08,109.05ZM12.53,109.47L12.95,107.92L14.08,109.05ZM26.53,109.47L26.95,107.92L28.08,109.05ZM33.53,109.47L33.95,107.92L35.08,109.05ZM40.53,109.47L40.95,107.92L42.08,109.05Z" fill="#111"/></g><rect x="1" y="0.5" width="193.5" height="107.3" fill="none" stroke="#8a8a8a" stroke-width="0.9"/><rect x="131" y="92.6" width="60.1" height="12.7" fill="#fff" stroke="#777" stroke-width="0.8"/><text x="161.35" y="100.6" text-anchor="middle" class="lb">SAT_VEC_N, d)</text></g>
<g transform="translate(0,152.6)"><g clip-path="url(#pc)"><g filter="url(#blur2)"><rect x="-10" y="-10" width="216" height="130" fill="#7ab2da"/><ellipse cx="14" cy="16" rx="18" ry="18" fill="#a0cce8"/><ellipse cx="20" cy="18" rx="5" ry="4" fill="#b4dcf0"/><ellipse cx="30" cy="12" rx="5" ry="4" fill="#b0d8ee"/><ellipse cx="5" cy="34" rx="7" ry="10" fill="#92c6e6"/><ellipse cx="55" cy="18" rx="20" ry="7" fill="#6a9ed2"/><ellipse cx="95" cy="10" rx="30" ry="8" fill="#6a9ed2"/><ellipse cx="130" cy="8" rx="18" ry="7" fill="#86bce0"/><ellipse cx="68" cy="36" rx="34" ry="14" fill="#5282c4"/><ellipse cx="43" cy="34" rx="6" ry="6" fill="#3454b0"/><ellipse cx="62" cy="41" rx="9" ry="6" fill="#3454b0"/><ellipse cx="81" cy="23" rx="6" ry="4" fill="#4a72bc"/><ellipse cx="98" cy="32" rx="10" ry="9" fill="#5a8ccc"/><ellipse cx="100" cy="33" rx="3" ry="3" fill="#86bce0"/><ellipse cx="130" cy="36" rx="18" ry="12" fill="#5282c4"/><ellipse cx="133" cy="39" rx="8" ry="5" fill="#3a5cb0"/><ellipse cx="134" cy="40" rx="3" ry="2" fill="#2e4aa4"/><ellipse cx="160" cy="28" rx="12" ry="28" fill="#b0d8ee"/><ellipse cx="168" cy="27" rx="4" ry="10" fill="#f4e2b0"/><ellipse cx="185" cy="38" rx="8" ry="6" fill="#a8d4ec"/><ellipse cx="70" cy="54" rx="10" ry="6" fill="#4a72bc"/><ellipse cx="92" cy="52" rx="12" ry="5" fill="#78b0da"/><ellipse cx="125" cy="55" rx="16" ry="6" fill="#a0d0ea"/><ellipse cx="36" cy="50" rx="10" ry="6" fill="#6a9ed2"/><ellipse cx="48" cy="56" rx="12" ry="6" fill="#6a9ed2"/><ellipse cx="85" cy="11" rx="20" ry="5" fill="#5e94cc"/><ellipse cx="28" cy="37" rx="5" ry="6" fill="#d8ecf4"/><ellipse cx="35" cy="72" rx="15" ry="14" fill="#a8d4ec"/><ellipse cx="35" cy="80" rx="9" ry="9" fill="#c8e4f0"/><ellipse cx="35" cy="85" rx="4" ry="4" fill="#f0e6c8"/><ellipse cx="60" cy="85" rx="7" ry="14" fill="#5a90c8"/><ellipse cx="62" cy="90" rx="3" ry="10" fill="#4a7cc0"/><ellipse cx="5" cy="95" rx="8" ry="12" fill="#5a88c8"/><ellipse cx="3" cy="100" rx="4" ry="6" fill="#3a5cb0"/><ellipse cx="48" cy="100" rx="8" ry="6" fill="#92c6e6"/></g><path d="M171,3 L173.5,10 L176,18 L178.3,26.5 L184,28.5 L192,31" fill="none" stroke="#2a3c9c" stroke-width="1.6" stroke-linejoin="round" filter="url(#blur1)"/><path d="M43,109 L44,102.7 L46,100.7 L50,99.2 L55,97.7 L57,96.9 L61.4,97.2 L62.9,101.2 L66.5,102 L68.9,101.7 L69.9,98.7 L66.9,94.7 L63.9,89.7 L61.4,85.7 L58.9,81.8 L57.2,78.5 L56.8,76.5 L58.7,74.7 L62.4,74 L66.2,72.2 L69.3,69.7 L70.5,65.9 L73,63.5 L76.7,62.2 L79.9,59.7 L83.6,58.5 L87.3,57.2 L89.8,54.8 L92.3,53.5 L96,56 L100,58.5 L102,59.6 L105.5,58.7 L108.9,61.4 L112.4,61.4 L117.6,62.2 L122.9,62.2 L128.1,63.1 L132.5,61.4 L136.8,62.2 L142,63.6 L147.3,64.3 L152.5,65.4 L157.7,66.6 L159.2,66.2 L160.4,61.7 L162.9,59.2 L165.4,58.3 L168.8,55 L171.3,50.8 L174.6,50 L176.3,48.3 L177.1,45.8 L178,43.3 L179.6,42.4 L183,43.3 L185.5,45 L188.8,45.8 L191.3,44.1 L192.2,41.6 L196,40.5 L196,109 Z" fill="#fff" stroke="#444" stroke-width="0.5"/><path d="M-1,42 L1.5,42.5 L4,44.8 L7.5,48.5 L10.5,52.5 L13.2,56.6 L16,61.5 L18.8,66.3 L21.5,70.8 L23.6,75 L24.7,79 L25.4,81.6 L26.5,82.8 L29.9,84.7 L32.5,86.5 L34.8,88 L37.3,94.7 L40.4,96.5 L37.3,98.4 L33.6,99.7 L29.9,100.3 L27.4,103.4 L24.9,105.9 L23,109 L18.7,109 L14.9,103.4 L13.7,99.7 L12.4,95.9 L7.5,93.4 L5,92.2 L4.5,87 L4.5,83 L-1,82.2 Z" fill="#fff" stroke="#444" stroke-width="0.5"/><path d="M175.7,-1 L175.7,0.8 L172.1,6.2 L173.9,7.9 L176.9,10.9 L178.1,14.5 L178.7,19.3 L179.3,25.3 L183.4,26.5 L187,27.7 L190,30 L191.8,27.7 L193.4,25.5 L194,22.5 L193.1,18.5 L193.2,8 L194.2,6 L196,5 L196,-1 Z" fill="#fff" stroke="#444" stroke-width="0.5"/><path d="M17,40.6 C17.6,38.2 20.8,36.3 24,36.3 C27.2,36.3 29.6,38.6 30,41.2 C28.8,43 26,43.5 23,43.1 C20,42.8 17.4,42 17,40.6 Z" fill="#fff" stroke="#444" stroke-width="0.5"/><g fill="none" stroke="#2a2a2a" stroke-width="0.6" stroke-dasharray="1.6 0.9"><path d="M22,-0.6 C22.48,-0.43 23.18,-0.37 24.9,0.4 C26.62,1.17 29.82,2.8 32.3,4 C34.78,5.2 36.88,6.38 39.8,7.6 C42.72,8.82 46.48,10.22 49.8,11.3 C53.12,12.38 56.38,13.3 59.7,14.1 C63.02,14.9 66.32,15.57 69.7,16.1 C73.08,16.63 76.62,17 80,17.3 C83.38,17.6 86.67,17.8 90,17.9 C93.33,18 97.1,17.98 100,17.9 C102.9,17.82 104.08,17.83 107.4,17.4 C110.72,16.97 115.75,16.15 119.9,15.3 C124.05,14.45 128.15,13.42 132.3,12.3 C136.45,11.18 140.65,9.88 144.8,8.6 C148.95,7.32 153.68,5.85 157.2,4.6 C160.72,3.35 164.02,1.97 165.9,1.1 C167.78,0.23 168.07,-0.32 168.5,-0.6"/><path d="M37.4,-0.6 L-1,88.3"/><path d="M70.7,16.2 L55.2,109"/><path d="M107.4,17.4 L115.6,109"/><path d="M144.8,8.6 L177.2,109"/><path d="M181.6,-0.6 L196,22"/></g></g><rect x="1" y="0.5" width="193.5" height="107.3" fill="none" stroke="#8a8a8a" stroke-width="0.9"/><rect x="150.1" y="92.6" width="41.8" height="12.7" fill="#fff" stroke="#777" stroke-width="0.8"/><text x="171.3" y="100.6" text-anchor="middle" class="lb">ADV_P, b)</text></g>
<g transform="translate(197.7,152.6)"><g clip-path="url(#pc)"><g filter="url(#blur2)"><rect x="-10" y="-10" width="216" height="130" fill="#d4eaf2"/><ellipse cx="15" cy="25" rx="20" ry="28" fill="#e2eee8"/><ellipse cx="30" cy="70" rx="12" ry="25" fill="#e0eee8"/><ellipse cx="60" cy="10" rx="30" ry="10" fill="#c8e4f2"/><ellipse cx="120" cy="8" rx="40" ry="8" fill="#cce6f2"/><ellipse cx="2" cy="18" rx="4" ry="5" fill="#f4e4c0"/><ellipse cx="30" cy="36" rx="4" ry="3" fill="#f4dcb0"/><ellipse cx="16" cy="33" rx="4" ry="3" fill="#f6dca8"/><ellipse cx="26" cy="48" rx="4" ry="3" fill="#f4dcb0"/><ellipse cx="24" cy="51" rx="4" ry="3" fill="#f4e0b0"/><ellipse cx="42" cy="77" rx="3" ry="8" fill="#e6eedc"/><ellipse cx="14" cy="11" rx="6" ry="5" fill="#c8e4f2"/><ellipse cx="55" cy="45" rx="12" ry="20" fill="#b0d8ee" transform="rotate(-30 55 45)"/><ellipse cx="57" cy="58" rx="7" ry="12" fill="#92c6e6" transform="rotate(-30 57 58)"/><ellipse cx="66" cy="63" rx="8" ry="10" fill="#5a8ccc" transform="rotate(-35 66 63)"/><ellipse cx="67" cy="66" rx="4" ry="7" fill="#3454b0" transform="rotate(-40 67 66)"/><ellipse cx="85" cy="40" rx="16" ry="10" fill="#a8d4ec"/><ellipse cx="82" cy="42" rx="10" ry="6" fill="#92c6e6"/><ellipse cx="84" cy="53" rx="8" ry="4" fill="#7ab4dc"/><ellipse cx="62" cy="92" rx="5" ry="11" fill="#a8d4ec"/><ellipse cx="6" cy="98" rx="8" ry="10" fill="#b8dcef"/><ellipse cx="120" cy="40" rx="20" ry="10" fill="#b0d8ee"/><ellipse cx="112" cy="47" rx="14" ry="6" fill="#a0d0ea"/><ellipse cx="94" cy="19" rx="5" ry="3" fill="#e8f0e0"/><ellipse cx="130" cy="22" rx="8" ry="5" fill="#eaf0dc"/><ellipse cx="150" cy="42" rx="22" ry="10" fill="#92c6e6"/><ellipse cx="155" cy="47" rx="12" ry="5" fill="#5a8ccc"/><ellipse cx="168" cy="33" rx="8" ry="8" fill="#92c6e6"/><ellipse cx="170" cy="15" rx="6" ry="9" fill="#a8d4ec"/><ellipse cx="186" cy="36" rx="8" ry="7" fill="#86bce0"/><ellipse cx="147" cy="58" rx="10" ry="5" fill="#a8d4ec"/><ellipse cx="125" cy="56" rx="15" ry="5" fill="#a8d4ec"/></g><path d="M57.5,78 L59.5,74.5 L63,73.6 L66.8,71.6 L69.6,68.5 L71,65 L73.5,63 L77,61.8 L80,59.6 L84,58.3" fill="none" stroke="#283c9c" stroke-width="3" stroke-linejoin="round" filter="url(#blur1)"/><path d="M58.5,80.5 L60.5,83 L62,86.6 L64,90.5 L66.5,95.5 L68,99.5" fill="none" stroke="#4a78c0" stroke-width="1.8" filter="url(#blur1)"/><path d="M170.5,24.5 L174,29.5 L178.3,31" fill="none" stroke="#3f6ab8" stroke-width="3.5" filter="url(#blur1)"/><path d="M43,109 L44,102.7 L46,100.7 L50,99.2 L55,97.7 L57,96.9 L61.4,97.2 L62.9,101.2 L66.5,102 L68.9,101.7 L69.9,98.7 L66.9,94.7 L63.9,89.7 L61.4,85.7 L58.9,81.8 L57.2,78.5 L56.8,76.5 L58.7,74.7 L62.4,74 L66.2,72.2 L69.3,69.7 L70.5,65.9 L73,63.5 L76.7,62.2 L79.9,59.7 L83.6,58.5 L87.3,57.2 L89.8,54.8 L92.3,53.5 L96,56 L100,58.5 L102,59.6 L105.5,58.7 L108.9,61.4 L112.4,61.4 L117.6,62.2 L122.9,62.2 L128.1,63.1 L132.5,61.4 L136.8,62.2 L142,63.6 L147.3,64.3 L152.5,65.4 L157.7,66.6 L159.2,66.2 L160.4,61.7 L162.9,59.2 L165.4,58.3 L168.8,55 L171.3,50.8 L174.6,50 L176.3,48.3 L177.1,45.8 L178,43.3 L179.6,42.4 L183,43.3 L185.5,45 L188.8,45.8 L191.3,44.1 L192.2,41.6 L196,40.5 L196,109 Z" fill="#fff" stroke="#444" stroke-width="0.5"/><path d="M-1,42 L1.5,42.5 L4,44.8 L7.5,48.5 L10.5,52.5 L13.2,56.6 L16,61.5 L18.8,66.3 L21.5,70.8 L23.6,75 L24.7,79 L25.4,81.6 L26.5,82.8 L29.9,84.7 L32.5,86.5 L34.8,88 L37.3,94.7 L40.4,96.5 L37.3,98.4 L33.6,99.7 L29.9,100.3 L27.4,103.4 L24.9,105.9 L23,109 L18.7,109 L14.9,103.4 L13.7,99.7 L12.4,95.9 L7.5,93.4 L5,92.2 L4.5,87 L4.5,83 L-1,82.2 Z" fill="#fff" stroke="#444" stroke-width="0.5"/><path d="M175.7,-1 L175.7,0.8 L172.1,6.2 L173.9,7.9 L176.9,10.9 L178.1,14.5 L178.7,19.3 L179.3,25.3 L183.4,26.5 L187,27.7 L190,30 L191.8,27.7 L193.4,25.5 L194,22.5 L193.1,18.5 L193.2,8 L194.2,6 L196,5 L196,-1 Z" fill="#fff" stroke="#444" stroke-width="0.5"/><path d="M17,40.6 C17.6,38.2 20.8,36.3 24,36.3 C27.2,36.3 29.6,38.6 30,41.2 C28.8,43 26,43.5 23,43.1 C20,42.8 17.4,42 17,40.6 Z" fill="#fff" stroke="#444" stroke-width="0.5"/><g fill="none" stroke="#2a2a2a" stroke-width="0.6" stroke-dasharray="1.6 0.9"><path d="M22,-0.6 C22.48,-0.43 23.18,-0.37 24.9,0.4 C26.62,1.17 29.82,2.8 32.3,4 C34.78,5.2 36.88,6.38 39.8,7.6 C42.72,8.82 46.48,10.22 49.8,11.3 C53.12,12.38 56.38,13.3 59.7,14.1 C63.02,14.9 66.32,15.57 69.7,16.1 C73.08,16.63 76.62,17 80,17.3 C83.38,17.6 86.67,17.8 90,17.9 C93.33,18 97.1,17.98 100,17.9 C102.9,17.82 104.08,17.83 107.4,17.4 C110.72,16.97 115.75,16.15 119.9,15.3 C124.05,14.45 128.15,13.42 132.3,12.3 C136.45,11.18 140.65,9.88 144.8,8.6 C148.95,7.32 153.68,5.85 157.2,4.6 C160.72,3.35 164.02,1.97 165.9,1.1 C167.78,0.23 168.07,-0.32 168.5,-0.6"/><path d="M37.4,-0.6 L-1,88.3"/><path d="M70.7,16.2 L55.2,109"/><path d="M107.4,17.4 L115.6,109"/><path d="M144.8,8.6 L177.2,109"/><path d="M181.6,-0.6 L196,22"/></g></g><rect x="1" y="0.5" width="193.5" height="107.3" fill="none" stroke="#8a8a8a" stroke-width="0.9"/><rect x="150.1" y="92.6" width="41.8" height="12.7" fill="#fff" stroke="#777" stroke-width="0.8"/><text x="171.3" y="100.6" text-anchor="middle" class="lb">ADV_N, e)</text></g>
<g transform="translate(0,305.2)"><g clip-path="url(#pc)"><rect x="-5" y="-5" width="206" height="120" fill="#ffb838"/><path d="M-15,-6 C-2.5,-6 41.67,-6.33 60,-6 C78.33,-5.67 86.67,-4.67 95,-4 C103.33,-3.33 106.17,-2.63 110,-2 C113.83,-1.37 114.97,-0.67 118,-0.2 C121.03,0.27 122.87,0.47 128.2,0.8 C133.53,1.13 143.03,1.53 150,1.8 C156.97,2.07 161.67,2.27 170,2.4 C178.33,2.53 195,2.57 200,2.6 L215,125 L-15,125 Z" fill="#ffd040"/><path d="M-6,7 C-4.67,6.73 -0.7,5.92 2,5.4 C4.7,4.88 7.47,4.5 10.2,3.9 C12.93,3.3 16.1,2.53 18.4,1.8 C20.7,1.07 21.23,0.47 24,-0.5 C26.77,-1.47 26.5,-3.25 35,-4 C43.5,-4.75 66.17,-5.33 75,-5 C83.83,-4.67 84.17,-3.17 88,-2 C91.83,-0.83 95,1.08 98,2 C101,2.92 103.52,3 106,3.5 C108.48,4 109.23,4.08 112.9,5 C116.57,5.92 123.82,8.07 128,9 C132.18,9.93 134.33,10.03 138,10.6 C141.67,11.17 144.67,12 150,12.4 C155.33,12.8 161.67,12.85 170,13 C178.33,13.15 195,13.25 200,13.3 L215,125 L-15,125 Z" fill="#fff040"/><path d="M-6,25 C-4.67,24.63 -0.7,23.8 2,22.8 C4.7,21.8 7.17,20.62 10.2,19 C13.23,17.38 16.87,14.68 20.2,13.1 C23.53,11.52 26.9,10.43 30.2,9.5 C33.5,8.57 36.7,8.12 40,7.5 C43.3,6.88 46.63,6.23 50,5.8 C53.37,5.37 55.87,4.95 60.2,4.9 C64.53,4.85 71.03,4.98 76,5.5 C80.97,6.02 86.33,7.25 90,8 C93.67,8.75 95.33,9.42 98,10 C100.67,10.58 103.52,10.97 106,11.5 C108.48,12.03 109.23,12.28 112.9,13.2 C116.57,14.12 123.82,16.03 128,17 C132.18,17.97 134.33,18.42 138,19 C141.67,19.58 144.67,20.12 150,20.5 C155.33,20.88 161.67,21.13 170,21.3 C178.33,21.47 195,21.47 200,21.5 L215,125 L-15,125 Z" fill="#b8e040"/><path d="M-6,46 C-4.67,45.13 -0.7,43.03 2,40.8 C4.7,38.57 7.17,35 10.2,32.6 C13.23,30.2 16.87,28.75 20.2,26.4 C23.53,24.05 26.9,20.37 30.2,18.5 C33.5,16.63 36.7,15.98 40,15.2 C43.3,14.42 46.63,14.15 50,13.8 C53.37,13.45 55.87,12.98 60.2,13.1 C64.53,13.22 71.7,13.93 76,14.5 C80.3,15.07 82.33,15.78 86,16.5 C89.67,17.22 94.67,18.25 98,18.8 C101.33,19.35 103.52,19.37 106,19.8 C108.48,20.23 109.23,20.53 112.9,21.4 C116.57,22.27 123.82,24.07 128,25 C132.18,25.93 134.33,26.42 138,27 C141.67,27.58 144.67,28.17 150,28.5 C155.33,28.83 161.67,28.87 170,29 C178.33,29.13 195,29.25 200,29.3 L215,125 L-15,125 Z" fill="#70c838"/><path d="M-12,78 C-8.67,74.17 2.93,61.55 8,55 C13.07,48.45 15.73,42.37 18.4,38.7 C21.07,35.03 22.03,34.95 24,33 C25.97,31.05 27.53,28.78 30.2,27 C32.87,25.22 36.7,23.22 40,22.3 C43.3,21.38 46.63,21.67 50,21.5 C53.37,21.33 55.87,21.3 60.2,21.3 C64.53,21.3 71.67,21.38 76,21.5 C80.33,21.62 82.87,21.67 86.2,22 C89.53,22.33 92.7,22.92 96,23.5 C99.3,24.08 102.33,24.42 106,25.5 C109.67,26.58 114.33,28.65 118,30 C121.67,31.35 124.67,32.8 128,33.6 C131.33,34.4 134.33,34.37 138,34.8 C141.67,35.23 144.67,35.88 150,36.2 C155.33,36.52 161.67,36.55 170,36.7 C178.33,36.85 195,37.03 200,37.1 L215,125 L-15,125 Z" fill="#38b830"/><path d="M-12,88 C-6.67,83.33 12.97,68.92 20,60 C27.03,51.08 26.87,39.53 30.2,34.5 C33.53,29.47 36.7,30.65 40,29.8 C43.3,28.95 46.63,29.45 50,29.4 C53.37,29.35 55.87,29.48 60.2,29.5 C64.53,29.52 71.67,29.47 76,29.5 C80.33,29.53 82.87,29.48 86.2,29.7 C89.53,29.92 92.7,30.3 96,30.8 C99.3,31.3 102.33,31.67 106,32.7 C109.67,33.73 114.33,35.82 118,37 C121.67,38.18 124.33,38.88 128,39.8 C131.67,40.72 136.33,41.93 140,42.5 C143.67,43.07 145,42.7 150,43.2 C155,43.7 161.67,45.03 170,45.5 C178.33,45.97 195,45.92 200,46 L215,125 L-15,125 Z" fill="#20a040"/><path d="M-12,92 C-6.67,87 13.33,69.17 20,62 C26.67,54.83 24.97,51.93 28,49 C31.03,46.07 34.87,45.77 38.2,44.4 C41.53,43.03 44.33,41.95 48,40.8 C51.67,39.65 55.53,38.17 60.2,37.5 C64.87,36.83 71.67,36.92 76,36.8 C80.33,36.68 82.87,36.6 86.2,36.8 C89.53,37 92.7,37.48 96,38 C99.3,38.52 102.33,38.73 106,39.9 C109.67,41.07 114,43.55 118,45 C122,46.45 126.33,47.73 130,48.6 C133.67,49.47 136.67,49.68 140,50.2 C143.33,50.72 144.83,50.57 150,51.7 C155.17,52.83 162.67,55.62 171,57 C179.33,58.38 195.17,59.5 200,60 L215,125 L-15,125 Z" fill="#187090"/><path d="M-12,96 C-7,91.33 11.33,74.47 18,68 C24.67,61.53 24.63,60.02 28,57.2 C31.37,54.38 34.87,52.8 38.2,51.1 C41.53,49.4 44.33,48.18 48,47 C51.67,45.82 55.53,44.5 60.2,44 C64.87,43.5 71.67,43.92 76,44 C80.33,44.08 82.87,44.2 86.2,44.5 C89.53,44.8 92.7,45.28 96,45.8 C99.3,46.32 102.33,46.4 106,47.6 C109.67,48.8 114,51.38 118,53 C122,54.62 126.33,55.13 130,57.3 C133.67,59.47 128.33,63.05 140,66 C151.67,68.95 190,73.5 200,75 L215,125 L-15,125 Z" fill="#1850c8"/><path d="M-12,100 C-8.33,97 4.33,87 10,82 C15.67,77 19,72.6 22,70 C25,67.4 25.3,68.18 28,66.4 C30.7,64.62 34.87,61.35 38.2,59.3 C41.53,57.25 44.37,55.23 48,54.1 C51.63,52.97 55.33,52.93 60,52.5 C64.67,52.07 71.63,51.63 76,51.5 C80.37,51.37 82.87,51.42 86.2,51.7 C89.53,51.98 92.7,52.6 96,53.2 C99.3,53.8 102.33,54.17 106,55.3 C109.67,56.43 114,58.55 118,60 C122,61.45 116.33,60.67 130,64 C143.67,67.33 188.33,77.33 200,80 L215,125 L-15,125 Z" fill="#1438f8"/><path d="M0,115 C1.67,112.5 6.67,104.5 10,100 C13.33,95.5 17,91.55 20,88 C23,84.45 25.33,81.37 28,78.7 C30.67,76.03 32.97,74.3 36,72 C39.03,69.7 42.87,66.65 46.2,64.9 C49.53,63.15 52.03,62.15 56,61.5 C59.97,60.85 64.33,60.75 70,61 C75.67,61.25 81.67,61.83 90,63 C98.33,64.17 101.67,64.33 120,68 C138.33,71.67 186.67,82.17 200,85 L215,125 L-15,125 Z" fill="#2c28d8"/><path d="M15,118 C16.67,115 22.5,104.33 25,100 C27.5,95.67 28.17,94.62 30,92 C31.83,89.38 33.3,87.12 36,84.3 C38.7,81.48 42.87,77.15 46.2,75.1 C49.53,73.05 52.03,72.52 56,72 C59.97,71.48 62.67,71.33 70,72 C77.33,72.67 78.33,72.67 100,76 C121.67,79.33 183.33,89.33 200,92 L215,125 L-15,125 Z" fill="#4418b0"/><path d="M25,118 C25.83,115.83 28.17,108.73 30,105 C31.83,101.27 33.3,98.53 36,95.6 C38.7,92.67 42.87,89.1 46.2,87.4 C49.53,85.7 52.03,85.63 56,85.4 C59.97,85.17 62.67,84.9 70,86 C77.33,87.1 78.33,88.83 100,92 C121.67,95.17 183.33,102.83 200,105 L215,125 L-15,125 Z" fill="#661a9c"/><path d="M43,109 L44,102.7 L46,100.7 L50,99.2 L55,97.7 L57,96.9 L61.4,97.2 L62.9,101.2 L66.5,102 L68.9,101.7 L69.9,98.7 L66.9,94.7 L63.9,89.7 L61.4,85.7 L58.9,81.8 L57.2,78.5 L56.8,76.5 L58.7,74.7 L62.4,74 L66.2,72.2 L69.3,69.7 L70.5,65.9 L73,63.5 L76.7,62.2 L79.9,59.7 L83.6,58.5 L87.3,57.2 L89.8,54.8 L92.3,53.5 L96,56 L100,58.5 L102,59.6 L105.5,58.7 L108.9,61.4 L112.4,61.4 L117.6,62.2 L122.9,62.2 L128.1,63.1 L132.5,61.4 L136.8,62.2 L142,63.6 L147.3,64.3 L152.5,65.4 L157.7,66.6 L159.2,66.2 L160.4,61.7 L162.9,59.2 L165.4,58.3 L168.8,55 L171.3,50.8 L174.6,50 L176.3,48.3 L177.1,45.8 L178,43.3 L179.6,42.4 L183,43.3 L185.5,45 L188.8,45.8 L191.3,44.1 L192.2,41.6 L196,40.5 L196,109 Z" fill="#fff" stroke="#444" stroke-width="0.5"/><path d="M-1,42 L1.5,42.5 L4,44.8 L7.5,48.5 L10.5,52.5 L13.2,56.6 L16,61.5 L18.8,66.3 L21.5,70.8 L23.6,75 L24.7,79 L25.4,81.6 L26.5,82.8 L29.9,84.7 L32.5,86.5 L34.8,88 L37.3,94.7 L40.4,96.5 L37.3,98.4 L33.6,99.7 L29.9,100.3 L27.4,103.4 L24.9,105.9 L23,109 L18.7,109 L14.9,103.4 L13.7,99.7 L12.4,95.9 L7.5,93.4 L5,92.2 L4.5,87 L4.5,83 L-1,82.2 Z" fill="#fff" stroke="#444" stroke-width="0.5"/><path d="M175.7,-1 L175.7,0.8 L172.1,6.2 L173.9,7.9 L176.9,10.9 L178.1,14.5 L178.7,19.3 L179.3,25.3 L183.4,26.5 L187,27.7 L190,30 L191.8,27.7 L193.4,25.5 L194,22.5 L193.1,18.5 L193.2,8 L194.2,6 L196,5 L196,-1 Z" fill="#fff" stroke="#444" stroke-width="0.5"/><path d="M17,40.6 C17.6,38.2 20.8,36.3 24,36.3 C27.2,36.3 29.6,38.6 30,41.2 C28.8,43 26,43.5 23,43.1 C20,42.8 17.4,42 17,40.6 Z" fill="#fff" stroke="#444" stroke-width="0.5"/><g fill="none" stroke="#2a2a2a" stroke-width="0.6" stroke-dasharray="1.6 0.9"><path d="M22,-0.6 C22.48,-0.43 23.18,-0.37 24.9,0.4 C26.62,1.17 29.82,2.8 32.3,4 C34.78,5.2 36.88,6.38 39.8,7.6 C42.72,8.82 46.48,10.22 49.8,11.3 C53.12,12.38 56.38,13.3 59.7,14.1 C63.02,14.9 66.32,15.57 69.7,16.1 C73.08,16.63 76.62,17 80,17.3 C83.38,17.6 86.67,17.8 90,17.9 C93.33,18 97.1,17.98 100,17.9 C102.9,17.82 104.08,17.83 107.4,17.4 C110.72,16.97 115.75,16.15 119.9,15.3 C124.05,14.45 128.15,13.42 132.3,12.3 C136.45,11.18 140.65,9.88 144.8,8.6 C148.95,7.32 153.68,5.85 157.2,4.6 C160.72,3.35 164.02,1.97 165.9,1.1 C167.78,0.23 168.07,-0.32 168.5,-0.6"/><path d="M37.4,-0.6 L-1,88.3"/><path d="M70.7,16.2 L55.2,109"/><path d="M107.4,17.4 L115.6,109"/><path d="M144.8,8.6 L177.2,109"/><path d="M181.6,-0.6 L196,22"/></g></g><rect x="1" y="0.5" width="193.5" height="107.3" fill="none" stroke="#8a8a8a" stroke-width="0.9"/><rect x="150.1" y="92.6" width="41.8" height="12.7" fill="#fff" stroke="#777" stroke-width="0.8"/><text x="171.3" y="100.6" text-anchor="middle" class="lb">SLP_P, c)</text></g>
<g transform="translate(197.7,305.2)"><g clip-path="url(#pc)"><rect x="-5" y="-5" width="206" height="120" fill="#ffb838"/><path d="M12.8,-5 C12.72,-4.17 12.48,-2.32 12.3,0 C12.12,2.32 12,5.55 11.7,8.9 C11.4,12.25 10.88,16.75 10.5,20.1 C10.12,23.45 9.95,26.22 9.4,29 C8.85,31.78 7.93,34.58 7.2,36.8 C6.47,39.02 5.73,40.63 5,42.3 C4.27,43.97 3.63,45.52 2.8,46.8 C1.97,48.08 0.47,49.47 0,50 L-5,52 L-5,-5 Z" fill="#ffd040"/><path d="M35.8,-5 C35.72,-4.17 35.53,-3.78 35.3,0 C35.07,3.78 34.32,13.57 34.4,17.7 C34.48,21.83 35.28,22.17 35.8,24.8 C36.32,27.43 36.33,30.88 37.5,33.5 C38.67,36.12 40.18,38.18 42.8,40.5 C45.42,42.82 49.72,45.37 53.2,47.4 C56.68,49.43 60.5,50.95 63.7,52.7 C66.9,54.45 69.68,56.18 72.4,57.9 C75.12,59.62 77.07,60.98 80,63 C82.93,65.02 88.33,68.83 90,70 L200,70 L200,-5 Z" fill="#ffa030"/><path d="M70.8,-5 C70.73,-4.17 70.87,-2.95 70.4,0 C69.93,2.95 68.25,8.57 68,12.7 C67.75,16.83 68.17,21.62 68.9,24.8 C69.63,27.98 70.67,29.48 72.4,31.8 C74.13,34.12 76.4,36.67 79.3,38.7 C82.2,40.73 85.97,42.53 89.8,44 C93.63,45.47 97.57,46.78 102.3,47.5 C107.03,48.22 113.4,48.38 118.2,48.3 C123,48.22 126.78,47.65 131.1,47 C135.42,46.35 139.78,45.92 144.1,44.4 C148.42,42.88 153.13,40.28 157,37.9 C160.87,35.52 164.28,32.68 167.3,30.1 C170.32,27.52 172.98,24.75 175.1,22.4 C177.22,20.05 178.35,18.07 180,16 C181.65,13.93 184.17,11 185,10 L200,5 L200,-5 Z" fill="#ff7020"/><path d="M60,69 C59.5,69.3 58.23,70.68 57,70.8 C55.77,70.92 54.58,69.63 52.6,69.7 C50.62,69.77 47.58,70.45 45.1,71.2 C42.62,71.95 39.93,72.95 37.7,74.2 C35.47,75.45 32.95,76.95 31.7,78.7 C30.45,80.45 30.32,82.48 30.2,84.7 C30.08,86.92 30.37,89.78 31,92 C31.63,94.22 32.17,96.5 34,98 C35.83,99.5 40,99 42,101 C44,103 45.33,108.5 46,110 L75,110 L75,69 Z" fill="#ffd040"/><path d="M38,110 C38.2,108.77 38.37,104.68 39.2,102.6 C40.03,100.52 41.52,99 43,97.5 C44.48,96 45.75,95.25 48.1,93.6 C50.45,91.95 54.12,89.2 57.1,87.6 C60.08,86 64.52,84.6 66,84 L75,84 L75,110 Z" fill="#fff040"/><path d="M-5,94 C-4.12,94.28 -1.92,94.75 0.3,95.7 C2.52,96.65 5.98,98.37 8.3,99.7 C10.62,101.03 12.58,101.98 14.2,103.7 C15.82,105.42 17.37,108.95 18,110 L-5,110 Z" fill="#fff040"/><path d="M-5,84 C-3.33,84.67 2.17,86.67 5,88 C7.83,89.33 9.5,90.67 12,92 C14.5,93.33 17.67,94.67 20,96 C22.33,97.33 25,99.33 26,100 L26,110 L-5,110 Z" fill="#ffd040"/><path d="M-5,94 C-4.12,94.28 -1.92,94.75 0.3,95.7 C2.52,96.65 5.98,98.37 8.3,99.7 C10.62,101.03 12.58,101.98 14.2,103.7 C15.82,105.42 17.37,108.95 18,110 L-5,110 Z" fill="#fff040"/><path d="M25,99 L33,98.8 L40,100 L42.5,103 L40,106 L37,110 L24,110 Z" fill="#ffb838"/><path d="M196,28 C195,28.57 191.28,30.07 190,31.4 C188.72,32.73 188.47,34.23 188.3,36 C188.13,37.77 188.38,40.17 189,42 C189.62,43.83 190.83,46 192,47 C193.17,48 195.33,47.83 196,48 Z" fill="#ffd040"/><path d="M43,109 L44,102.7 L46,100.7 L50,99.2 L55,97.7 L57,96.9 L61.4,97.2 L62.9,101.2 L66.5,102 L68.9,101.7 L69.9,98.7 L66.9,94.7 L63.9,89.7 L61.4,85.7 L58.9,81.8 L57.2,78.5 L56.8,76.5 L58.7,74.7 L62.4,74 L66.2,72.2 L69.3,69.7 L70.5,65.9 L73,63.5 L76.7,62.2 L79.9,59.7 L83.6,58.5 L87.3,57.2 L89.8,54.8 L92.3,53.5 L96,56 L100,58.5 L102,59.6 L105.5,58.7 L108.9,61.4 L112.4,61.4 L117.6,62.2 L122.9,62.2 L128.1,63.1 L132.5,61.4 L136.8,62.2 L142,63.6 L147.3,64.3 L152.5,65.4 L157.7,66.6 L159.2,66.2 L160.4,61.7 L162.9,59.2 L165.4,58.3 L168.8,55 L171.3,50.8 L174.6,50 L176.3,48.3 L177.1,45.8 L178,43.3 L179.6,42.4 L183,43.3 L185.5,45 L188.8,45.8 L191.3,44.1 L192.2,41.6 L196,40.5 L196,109 Z" fill="#fff" stroke="#444" stroke-width="0.5"/><path d="M-1,42 L1.5,42.5 L4,44.8 L7.5,48.5 L10.5,52.5 L13.2,56.6 L16,61.5 L18.8,66.3 L21.5,70.8 L23.6,75 L24.7,79 L25.4,81.6 L26.5,82.8 L29.9,84.7 L32.5,86.5 L34.8,88 L37.3,94.7 L40.4,96.5 L37.3,98.4 L33.6,99.7 L29.9,100.3 L27.4,103.4 L24.9,105.9 L23,109 L18.7,109 L14.9,103.4 L13.7,99.7 L12.4,95.9 L7.5,93.4 L5,92.2 L4.5,87 L4.5,83 L-1,82.2 Z" fill="#fff" stroke="#444" stroke-width="0.5"/><path d="M175.7,-1 L175.7,0.8 L172.1,6.2 L173.9,7.9 L176.9,10.9 L178.1,14.5 L178.7,19.3 L179.3,25.3 L183.4,26.5 L187,27.7 L190,30 L191.8,27.7 L193.4,25.5 L194,22.5 L193.1,18.5 L193.2,8 L194.2,6 L196,5 L196,-1 Z" fill="#fff" stroke="#444" stroke-width="0.5"/><path d="M17,40.6 C17.6,38.2 20.8,36.3 24,36.3 C27.2,36.3 29.6,38.6 30,41.2 C28.8,43 26,43.5 23,43.1 C20,42.8 17.4,42 17,40.6 Z" fill="#fff" stroke="#444" stroke-width="0.5"/><g fill="none" stroke="#2a2a2a" stroke-width="0.6" stroke-dasharray="1.6 0.9"><path d="M22,-0.6 C22.48,-0.43 23.18,-0.37 24.9,0.4 C26.62,1.17 29.82,2.8 32.3,4 C34.78,5.2 36.88,6.38 39.8,7.6 C42.72,8.82 46.48,10.22 49.8,11.3 C53.12,12.38 56.38,13.3 59.7,14.1 C63.02,14.9 66.32,15.57 69.7,16.1 C73.08,16.63 76.62,17 80,17.3 C83.38,17.6 86.67,17.8 90,17.9 C93.33,18 97.1,17.98 100,17.9 C102.9,17.82 104.08,17.83 107.4,17.4 C110.72,16.97 115.75,16.15 119.9,15.3 C124.05,14.45 128.15,13.42 132.3,12.3 C136.45,11.18 140.65,9.88 144.8,8.6 C148.95,7.32 153.68,5.85 157.2,4.6 C160.72,3.35 164.02,1.97 165.9,1.1 C167.78,0.23 168.07,-0.32 168.5,-0.6"/><path d="M37.4,-0.6 L-1,88.3"/><path d="M70.7,16.2 L55.2,109"/><path d="M107.4,17.4 L115.6,109"/><path d="M144.8,8.6 L177.2,109"/><path d="M181.6,-0.6 L196,22"/></g></g><rect x="1" y="0.5" width="193.5" height="107.3" fill="none" stroke="#8a8a8a" stroke-width="0.9"/><rect x="150.1" y="92.6" width="41.8" height="12.7" fill="#fff" stroke="#777" stroke-width="0.8"/><text x="171.3" y="100.6" text-anchor="middle" class="lb">SLP_N, f)</text></g>
<rect x="139.5" y="110.2" width="35" height="8" fill="#fff" stroke="#888" stroke-width="0.8"/><line x1="140.7" y1="114.3" x2="153.5" y2="114.3" stroke="#000" stroke-width="0.6"/><path d="M151.5,112.9 L154.7,114.3 L151.5,115.7 Z" fill="#000"/><text x="155.3" y="117.4" class="vr">8ms<tspan dy="-3" style="font-size:5px">-1</tspan></text>
<rect x="337.3" y="110.2" width="35" height="8" fill="#fff" stroke="#888" stroke-width="0.8"/><line x1="338.5" y1="114.3" x2="351.3" y2="114.3" stroke="#000" stroke-width="0.6"/><path d="M349.3,112.9 L352.5,114.3 L349.3,115.7 Z" fill="#000"/><text x="353.1" y="117.4" class="vr">8ms<tspan dy="-3" style="font-size:5px">-1</tspan></text>
<g transform="translate(0,0)">
<rect x="11.7" y="121.2" width="9.09" height="9.5" fill="#ffffff"/><rect x="20.74" y="121.2" width="9.09" height="9.5" fill="#c8b0e2"/><rect x="29.77" y="121.2" width="9.09" height="9.5" fill="#9a60c2"/><rect x="38.81" y="121.2" width="9.09" height="9.5" fill="#5c168e"/><rect x="47.85" y="121.2" width="9.09" height="9.5" fill="#3e1cb6"/><rect x="56.88" y="121.2" width="9.09" height="9.5" fill="#2828d8"/><rect x="65.92" y="121.2" width="9.09" height="9.5" fill="#1438fc"/><rect x="74.96" y="121.2" width="9.09" height="9.5" fill="#1452c2"/><rect x="83.99" y="121.2" width="9.09" height="9.5" fill="#1f7f72"/><rect x="93.03" y="121.2" width="9.09" height="9.5" fill="#22b032"/><rect x="102.07" y="121.2" width="9.09" height="9.5" fill="#62c842"/><rect x="111.11" y="121.2" width="9.09" height="9.5" fill="#b2e03e"/><rect x="120.14" y="121.2" width="9.09" height="9.5" fill="#fff03c"/><rect x="129.18" y="121.2" width="9.09" height="9.5" fill="#ffd840"/><rect x="138.22" y="121.2" width="9.09" height="9.5" fill="#ffb83a"/><rect x="147.25" y="121.2" width="9.09" height="9.5" fill="#ffa030"/><rect x="156.29" y="121.2" width="9.09" height="9.5" fill="#ff7020"/><rect x="165.33" y="121.2" width="9.09" height="9.5" fill="#ff4024"/><rect x="174.36" y="121.2" width="9.09" height="9.5" fill="#ff1424"/><g stroke="#333" stroke-width="0.5"><line x1="20.74" y1="121.2" x2="20.74" y2="130.7"/><line x1="29.77" y1="121.2" x2="29.77" y2="130.7"/><line x1="38.81" y1="121.2" x2="38.81" y2="130.7"/><line x1="47.85" y1="121.2" x2="47.85" y2="130.7"/><line x1="56.88" y1="121.2" x2="56.88" y2="130.7"/><line x1="65.92" y1="121.2" x2="65.92" y2="130.7"/><line x1="74.96" y1="121.2" x2="74.96" y2="130.7"/><line x1="83.99" y1="121.2" x2="83.99" y2="130.7"/><line x1="93.03" y1="121.2" x2="93.03" y2="130.7"/><line x1="102.07" y1="121.2" x2="102.07" y2="130.7"/><line x1="111.11" y1="121.2" x2="111.11" y2="130.7"/><line x1="120.14" y1="121.2" x2="120.14" y2="130.7"/><line x1="129.18" y1="121.2" x2="129.18" y2="130.7"/><line x1="138.22" y1="121.2" x2="138.22" y2="130.7"/><line x1="147.25" y1="121.2" x2="147.25" y2="130.7"/><line x1="156.29" y1="121.2" x2="156.29" y2="130.7"/><line x1="165.33" y1="121.2" x2="165.33" y2="130.7"/><line x1="174.36" y1="121.2" x2="174.36" y2="130.7"/></g><rect x="11.7" y="121.2" width="171.7" height="9.5" fill="none" stroke="#555" stroke-width="0.7"/><text x="20.74" y="143.45" transform="rotate(-30 20.74 140.3)" text-anchor="middle" class="cl" style="font-size:9px">260</text><text x="47.85" y="143.45" transform="rotate(-30 47.85 140.3)" text-anchor="middle" class="cl" style="font-size:9px">263</text><text x="74.96" y="143.45" transform="rotate(-30 74.96 140.3)" text-anchor="middle" class="cl" style="font-size:9px">266</text><text x="102.07" y="143.45" transform="rotate(-30 102.07 140.3)" text-anchor="middle" class="cl" style="font-size:9px">269</text><text x="129.18" y="143.45" transform="rotate(-30 129.18 140.3)" text-anchor="middle" class="cl" style="font-size:9px">272</text><text x="156.29" y="143.45" transform="rotate(-30 156.29 140.3)" text-anchor="middle" class="cl" style="font-size:9px">275</text><text x="177.1" y="143.5" class="un" style="font-size:10px">K</text>
<rect x="11.7" y="271.2" width="7.85" height="9.5" fill="#283c9c"/><rect x="19.5" y="271.2" width="7.85" height="9.5" fill="#3454b0"/><rect x="27.31" y="271.2" width="7.85" height="9.5" fill="#4570bc"/><rect x="35.11" y="271.2" width="7.85" height="9.5" fill="#5088c6"/><rect x="42.92" y="271.2" width="7.85" height="9.5" fill="#62a0d0"/><rect x="50.72" y="271.2" width="7.85" height="9.5" fill="#7ab4dc"/><rect x="58.53" y="271.2" width="7.85" height="9.5" fill="#92c6e6"/><rect x="66.33" y="271.2" width="7.85" height="9.5" fill="#aad6ee"/><rect x="74.14" y="271.2" width="7.85" height="9.5" fill="#c4e4f2"/><rect x="81.94" y="271.2" width="7.85" height="9.5" fill="#dcecf4"/><rect x="89.75" y="271.2" width="7.85" height="9.5" fill="#e8f0e0"/><rect x="97.55" y="271.2" width="7.85" height="9.5" fill="#f8e8b8"/><rect x="105.35" y="271.2" width="7.85" height="9.5" fill="#fed890"/><rect x="113.16" y="271.2" width="7.85" height="9.5" fill="#fec47c"/><rect x="120.96" y="271.2" width="7.85" height="9.5" fill="#fdb068"/><rect x="128.77" y="271.2" width="7.85" height="9.5" fill="#fc9050"/><rect x="136.57" y="271.2" width="7.85" height="9.5" fill="#f67a4a"/><rect x="144.38" y="271.2" width="7.85" height="9.5" fill="#ee6444"/><rect x="152.18" y="271.2" width="7.85" height="9.5" fill="#e24c3c"/><rect x="159.99" y="271.2" width="7.85" height="9.5" fill="#d43636"/><rect x="167.79" y="271.2" width="7.85" height="9.5" fill="#c22232"/><rect x="175.6" y="271.2" width="7.85" height="9.5" fill="#a8102c"/><g stroke="#333" stroke-width="0.5"><line x1="19.5" y1="271.2" x2="19.5" y2="280.7"/><line x1="27.31" y1="271.2" x2="27.31" y2="280.7"/><line x1="35.11" y1="271.2" x2="35.11" y2="280.7"/><line x1="42.92" y1="271.2" x2="42.92" y2="280.7"/><line x1="50.72" y1="271.2" x2="50.72" y2="280.7"/><line x1="58.53" y1="271.2" x2="58.53" y2="280.7"/><line x1="66.33" y1="271.2" x2="66.33" y2="280.7"/><line x1="74.14" y1="271.2" x2="74.14" y2="280.7"/><line x1="81.94" y1="271.2" x2="81.94" y2="280.7"/><line x1="89.75" y1="271.2" x2="89.75" y2="280.7"/><line x1="97.55" y1="271.2" x2="97.55" y2="280.7"/><line x1="105.35" y1="271.2" x2="105.35" y2="280.7"/><line x1="113.16" y1="271.2" x2="113.16" y2="280.7"/><line x1="120.96" y1="271.2" x2="120.96" y2="280.7"/><line x1="128.77" y1="271.2" x2="128.77" y2="280.7"/><line x1="136.57" y1="271.2" x2="136.57" y2="280.7"/><line x1="144.38" y1="271.2" x2="144.38" y2="280.7"/><line x1="152.18" y1="271.2" x2="152.18" y2="280.7"/><line x1="159.99" y1="271.2" x2="159.99" y2="280.7"/><line x1="167.79" y1="271.2" x2="167.79" y2="280.7"/><line x1="175.6" y1="271.2" x2="175.6" y2="280.7"/></g><rect x="11.7" y="271.2" width="171.7" height="9.5" fill="none" stroke="#555" stroke-width="0.7"/><text x="19.5" y="292" transform="rotate(-30 19.5 289.1)" text-anchor="middle" class="cl" style="font-size:8.3px">-10</text><text x="35.11" y="292" transform="rotate(-30 35.11 289.1)" text-anchor="middle" class="cl" style="font-size:8.3px">-8</text><text x="50.72" y="292" transform="rotate(-30 50.72 289.1)" text-anchor="middle" class="cl" style="font-size:8.3px">-6</text><text x="66.33" y="292" transform="rotate(-30 66.33 289.1)" text-anchor="middle" class="cl" style="font-size:8.3px">-4</text><text x="81.94" y="292" transform="rotate(-30 81.94 289.1)" text-anchor="middle" class="cl" style="font-size:8.3px">-2</text><text x="97.55" y="292" transform="rotate(-30 97.55 289.1)" text-anchor="middle" class="cl" style="font-size:8.3px">0</text><text x="113.16" y="292" transform="rotate(-30 113.16 289.1)" text-anchor="middle" class="cl" style="font-size:8.3px">2</text><text x="128.77" y="292" transform="rotate(-30 128.77 289.1)" text-anchor="middle" class="cl" style="font-size:8.3px">4</text><text x="144.38" y="292" transform="rotate(-30 144.38 289.1)" text-anchor="middle" class="cl" style="font-size:8.3px">6</text><text x="159.99" y="292" transform="rotate(-30 159.99 289.1)" text-anchor="middle" class="cl" style="font-size:8.3px">8</text><text x="175.6" y="292" transform="rotate(-30 175.6 289.1)" text-anchor="middle" class="cl" style="font-size:8.3px">10</text><text x="184.9" y="292.3" class="un" style="font-size:8.7px">Ks<tspan dx="0.6" dy="-3.6" style="font-size:5px">-1</tspan></text>
<rect x="11.7" y="421.8" width="8.64" height="9.8" fill="#ffffff"/><rect x="20.29" y="421.8" width="8.64" height="9.8" fill="#d0b8e8"/><rect x="28.87" y="421.8" width="8.64" height="9.8" fill="#9c64c4"/><rect x="37.45" y="421.8" width="8.64" height="9.8" fill="#661a9c"/><rect x="46.04" y="421.8" width="8.64" height="9.8" fill="#4418b0"/><rect x="54.62" y="421.8" width="8.64" height="9.8" fill="#2c28d8"/><rect x="63.21" y="421.8" width="8.64" height="9.8" fill="#1438f8"/><rect x="71.8" y="421.8" width="8.64" height="9.8" fill="#1850c8"/><rect x="80.38" y="421.8" width="8.64" height="9.8" fill="#187090"/><rect x="88.97" y="421.8" width="8.64" height="9.8" fill="#20a040"/><rect x="97.55" y="421.8" width="8.64" height="9.8" fill="#38b830"/><rect x="106.14" y="421.8" width="8.64" height="9.8" fill="#70c838"/><rect x="114.72" y="421.8" width="8.64" height="9.8" fill="#b8e040"/><rect x="123.31" y="421.8" width="8.64" height="9.8" fill="#fff040"/><rect x="131.89" y="421.8" width="8.64" height="9.8" fill="#ffd040"/><rect x="140.47" y="421.8" width="8.64" height="9.8" fill="#ffb838"/><rect x="149.06" y="421.8" width="8.64" height="9.8" fill="#ffa030"/><rect x="157.65" y="421.8" width="8.64" height="9.8" fill="#ff7020"/><rect x="166.23" y="421.8" width="8.64" height="9.8" fill="#ff4028"/><rect x="174.81" y="421.8" width="8.64" height="9.8" fill="#ff1828"/><g stroke="#333" stroke-width="0.5"><line x1="20.29" y1="421.8" x2="20.29" y2="431.6"/><line x1="28.87" y1="421.8" x2="28.87" y2="431.6"/><line x1="37.45" y1="421.8" x2="37.45" y2="431.6"/><line x1="46.04" y1="421.8" x2="46.04" y2="431.6"/><line x1="54.62" y1="421.8" x2="54.62" y2="431.6"/><line x1="63.21" y1="421.8" x2="63.21" y2="431.6"/><line x1="71.8" y1="421.8" x2="71.8" y2="431.6"/><line x1="80.38" y1="421.8" x2="80.38" y2="431.6"/><line x1="88.97" y1="421.8" x2="88.97" y2="431.6"/><line x1="97.55" y1="421.8" x2="97.55" y2="431.6"/><line x1="106.14" y1="421.8" x2="106.14" y2="431.6"/><line x1="114.72" y1="421.8" x2="114.72" y2="431.6"/><line x1="123.31" y1="421.8" x2="123.31" y2="431.6"/><line x1="131.89" y1="421.8" x2="131.89" y2="431.6"/><line x1="140.47" y1="421.8" x2="140.47" y2="431.6"/><line x1="149.06" y1="421.8" x2="149.06" y2="431.6"/><line x1="157.65" y1="421.8" x2="157.65" y2="431.6"/><line x1="166.23" y1="421.8" x2="166.23" y2="431.6"/><line x1="174.81" y1="421.8" x2="174.81" y2="431.6"/></g><rect x="11.7" y="421.8" width="171.7" height="9.8" fill="none" stroke="#555" stroke-width="0.7"/><text x="20.29" y="445.28" transform="rotate(-30 20.29 442.2)" text-anchor="middle" class="cl" style="font-size:8.8px">1000</text><text x="46.04" y="445.28" transform="rotate(-30 46.04 442.2)" text-anchor="middle" class="cl" style="font-size:8.8px">1003</text><text x="71.8" y="445.28" transform="rotate(-30 71.8 442.2)" text-anchor="middle" class="cl" style="font-size:8.8px">1006</text><text x="97.55" y="445.28" transform="rotate(-30 97.55 442.2)" text-anchor="middle" class="cl" style="font-size:8.8px">1009</text><text x="123.31" y="445.28" transform="rotate(-30 123.31 442.2)" text-anchor="middle" class="cl" style="font-size:8.8px">1012</text><text x="149.06" y="445.28" transform="rotate(-30 149.06 442.2)" text-anchor="middle" class="cl" style="font-size:8.8px">1015</text><text x="174.81" y="445.28" transform="rotate(-30 174.81 442.2)" text-anchor="middle" class="cl" style="font-size:8.8px">1018</text><text x="187.8" y="445.5" class="un" style="font-size:9.2px">hPa</text>
</g>
<g transform="translate(197.8,0)">
<rect x="11.7" y="121.2" width="9.09" height="9.5" fill="#ffffff"/><rect x="20.74" y="121.2" width="9.09" height="9.5" fill="#c8b0e2"/><rect x="29.77" y="121.2" width="9.09" height="9.5" fill="#9a60c2"/><rect x="38.81" y="121.2" width="9.09" height="9.5" fill="#5c168e"/><rect x="47.85" y="121.2" width="9.09" height="9.5" fill="#3e1cb6"/><rect x="56.88" y="121.2" width="9.09" height="9.5" fill="#2828d8"/><rect x="65.92" y="121.2" width="9.09" height="9.5" fill="#1438fc"/><rect x="74.96" y="121.2" width="9.09" height="9.5" fill="#1452c2"/><rect x="83.99" y="121.2" width="9.09" height="9.5" fill="#1f7f72"/><rect x="93.03" y="121.2" width="9.09" height="9.5" fill="#22b032"/><rect x="102.07" y="121.2" width="9.09" height="9.5" fill="#62c842"/><rect x="111.11" y="121.2" width="9.09" height="9.5" fill="#b2e03e"/><rect x="120.14" y="121.2" width="9.09" height="9.5" fill="#fff03c"/><rect x="129.18" y="121.2" width="9.09" height="9.5" fill="#ffd840"/><rect x="138.22" y="121.2" width="9.09" height="9.5" fill="#ffb83a"/><rect x="147.25" y="121.2" width="9.09" height="9.5" fill="#ffa030"/><rect x="156.29" y="121.2" width="9.09" height="9.5" fill="#ff7020"/><rect x="165.33" y="121.2" width="9.09" height="9.5" fill="#ff4024"/><rect x="174.36" y="121.2" width="9.09" height="9.5" fill="#ff1424"/><g stroke="#333" stroke-width="0.5"><line x1="20.74" y1="121.2" x2="20.74" y2="130.7"/><line x1="29.77" y1="121.2" x2="29.77" y2="130.7"/><line x1="38.81" y1="121.2" x2="38.81" y2="130.7"/><line x1="47.85" y1="121.2" x2="47.85" y2="130.7"/><line x1="56.88" y1="121.2" x2="56.88" y2="130.7"/><line x1="65.92" y1="121.2" x2="65.92" y2="130.7"/><line x1="74.96" y1="121.2" x2="74.96" y2="130.7"/><line x1="83.99" y1="121.2" x2="83.99" y2="130.7"/><line x1="93.03" y1="121.2" x2="93.03" y2="130.7"/><line x1="102.07" y1="121.2" x2="102.07" y2="130.7"/><line x1="111.11" y1="121.2" x2="111.11" y2="130.7"/><line x1="120.14" y1="121.2" x2="120.14" y2="130.7"/><line x1="129.18" y1="121.2" x2="129.18" y2="130.7"/><line x1="138.22" y1="121.2" x2="138.22" y2="130.7"/><line x1="147.25" y1="121.2" x2="147.25" y2="130.7"/><line x1="156.29" y1="121.2" x2="156.29" y2="130.7"/><line x1="165.33" y1="121.2" x2="165.33" y2="130.7"/><line x1="174.36" y1="121.2" x2="174.36" y2="130.7"/></g><rect x="11.7" y="121.2" width="171.7" height="9.5" fill="none" stroke="#555" stroke-width="0.7"/><text x="20.74" y="143.45" transform="rotate(-30 20.74 140.3)" text-anchor="middle" class="cl" style="font-size:9px">260</text><text x="47.85" y="143.45" transform="rotate(-30 47.85 140.3)" text-anchor="middle" class="cl" style="font-size:9px">263</text><text x="74.96" y="143.45" transform="rotate(-30 74.96 140.3)" text-anchor="middle" class="cl" style="font-size:9px">266</text><text x="102.07" y="143.45" transform="rotate(-30 102.07 140.3)" text-anchor="middle" class="cl" style="font-size:9px">269</text><text x="129.18" y="143.45" transform="rotate(-30 129.18 140.3)" text-anchor="middle" class="cl" style="font-size:9px">272</text><text x="156.29" y="143.45" transform="rotate(-30 156.29 140.3)" text-anchor="middle" class="cl" style="font-size:9px">275</text><text x="176" y="143.5" class="un" style="font-size:10px">K</text>
<rect x="11.7" y="271.2" width="7.85" height="9.5" fill="#283c9c"/><rect x="19.5" y="271.2" width="7.85" height="9.5" fill="#3454b0"/><rect x="27.31" y="271.2" width="7.85" height="9.5" fill="#4570bc"/><rect x="35.11" y="271.2" width="7.85" height="9.5" fill="#5088c6"/><rect x="42.92" y="271.2" width="7.85" height="9.5" fill="#62a0d0"/><rect x="50.72" y="271.2" width="7.85" height="9.5" fill="#7ab4dc"/><rect x="58.53" y="271.2" width="7.85" height="9.5" fill="#92c6e6"/><rect x="66.33" y="271.2" width="7.85" height="9.5" fill="#aad6ee"/><rect x="74.14" y="271.2" width="7.85" height="9.5" fill="#c4e4f2"/><rect x="81.94" y="271.2" width="7.85" height="9.5" fill="#dcecf4"/><rect x="89.75" y="271.2" width="7.85" height="9.5" fill="#e8f0e0"/><rect x="97.55" y="271.2" width="7.85" height="9.5" fill="#f8e8b8"/><rect x="105.35" y="271.2" width="7.85" height="9.5" fill="#fed890"/><rect x="113.16" y="271.2" width="7.85" height="9.5" fill="#fec47c"/><rect x="120.96" y="271.2" width="7.85" height="9.5" fill="#fdb068"/><rect x="128.77" y="271.2" width="7.85" height="9.5" fill="#fc9050"/><rect x="136.57" y="271.2" width="7.85" height="9.5" fill="#f67a4a"/><rect x="144.38" y="271.2" width="7.85" height="9.5" fill="#ee6444"/><rect x="152.18" y="271.2" width="7.85" height="9.5" fill="#e24c3c"/><rect x="159.99" y="271.2" width="7.85" height="9.5" fill="#d43636"/><rect x="167.79" y="271.2" width="7.85" height="9.5" fill="#c22232"/><rect x="175.6" y="271.2" width="7.85" height="9.5" fill="#a8102c"/><g stroke="#333" stroke-width="0.5"><line x1="19.5" y1="271.2" x2="19.5" y2="280.7"/><line x1="27.31" y1="271.2" x2="27.31" y2="280.7"/><line x1="35.11" y1="271.2" x2="35.11" y2="280.7"/><line x1="42.92" y1="271.2" x2="42.92" y2="280.7"/><line x1="50.72" y1="271.2" x2="50.72" y2="280.7"/><line x1="58.53" y1="271.2" x2="58.53" y2="280.7"/><line x1="66.33" y1="271.2" x2="66.33" y2="280.7"/><line x1="74.14" y1="271.2" x2="74.14" y2="280.7"/><line x1="81.94" y1="271.2" x2="81.94" y2="280.7"/><line x1="89.75" y1="271.2" x2="89.75" y2="280.7"/><line x1="97.55" y1="271.2" x2="97.55" y2="280.7"/><line x1="105.35" y1="271.2" x2="105.35" y2="280.7"/><line x1="113.16" y1="271.2" x2="113.16" y2="280.7"/><line x1="120.96" y1="271.2" x2="120.96" y2="280.7"/><line x1="128.77" y1="271.2" x2="128.77" y2="280.7"/><line x1="136.57" y1="271.2" x2="136.57" y2="280.7"/><line x1="144.38" y1="271.2" x2="144.38" y2="280.7"/><line x1="152.18" y1="271.2" x2="152.18" y2="280.7"/><line x1="159.99" y1="271.2" x2="159.99" y2="280.7"/><line x1="167.79" y1="271.2" x2="167.79" y2="280.7"/><line x1="175.6" y1="271.2" x2="175.6" y2="280.7"/></g><rect x="11.7" y="271.2" width="171.7" height="9.5" fill="none" stroke="#555" stroke-width="0.7"/><text x="19.5" y="292" transform="rotate(-30 19.5 289.1)" text-anchor="middle" class="cl" style="font-size:8.3px">-10</text><text x="35.11" y="292" transform="rotate(-30 35.11 289.1)" text-anchor="middle" class="cl" style="font-size:8.3px">-8</text><text x="50.72" y="292" transform="rotate(-30 50.72 289.1)" text-anchor="middle" class="cl" style="font-size:8.3px">-6</text><text x="66.33" y="292" transform="rotate(-30 66.33 289.1)" text-anchor="middle" class="cl" style="font-size:8.3px">-4</text><text x="81.94" y="292" transform="rotate(-30 81.94 289.1)" text-anchor="middle" class="cl" style="font-size:8.3px">-2</text><text x="97.55" y="292" transform="rotate(-30 97.55 289.1)" text-anchor="middle" class="cl" style="font-size:8.3px">0</text><text x="113.16" y="292" transform="rotate(-30 113.16 289.1)" text-anchor="middle" class="cl" style="font-size:8.3px">2</text><text x="128.77" y="292" transform="rotate(-30 128.77 289.1)" text-anchor="middle" class="cl" style="font-size:8.3px">4</text><text x="144.38" y="292" transform="rotate(-30 144.38 289.1)" text-anchor="middle" class="cl" style="font-size:8.3px">6</text><text x="159.99" y="292" transform="rotate(-30 159.99 289.1)" text-anchor="middle" class="cl" style="font-size:8.3px">8</text><text x="175.6" y="292" transform="rotate(-30 175.6 289.1)" text-anchor="middle" class="cl" style="font-size:8.3px">10</text><text x="183.6" y="292.3" class="un" style="font-size:8.7px">Ks<tspan dx="0.6" dy="-3.6" style="font-size:5px">-1</tspan></text>
<rect x="11.7" y="421.8" width="8.64" height="9.8" fill="#ffffff"/><rect x="20.29" y="421.8" width="8.64" height="9.8" fill="#d0b8e8"/><rect x="28.87" y="421.8" width="8.64" height="9.8" fill="#9c64c4"/><rect x="37.45" y="421.8" width="8.64" height="9.8" fill="#661a9c"/><rect x="46.04" y="421.8" width="8.64" height="9.8" fill="#4418b0"/><rect x="54.62" y="421.8" width="8.64" height="9.8" fill="#2c28d8"/><rect x="63.21" y="421.8" width="8.64" height="9.8" fill="#1438f8"/><rect x="71.8" y="421.8" width="8.64" height="9.8" fill="#1850c8"/><rect x="80.38" y="421.8" width="8.64" height="9.8" fill="#187090"/><rect x="88.97" y="421.8" width="8.64" height="9.8" fill="#20a040"/><rect x="97.55" y="421.8" width="8.64" height="9.8" fill="#38b830"/><rect x="106.14" y="421.8" width="8.64" height="9.8" fill="#70c838"/><rect x="114.72" y="421.8" width="8.64" height="9.8" fill="#b8e040"/><rect x="123.31" y="421.8" width="8.64" height="9.8" fill="#fff040"/><rect x="131.89" y="421.8" width="8.64" height="9.8" fill="#ffd040"/><rect x="140.47" y="421.8" width="8.64" height="9.8" fill="#ffb838"/><rect x="149.06" y="421.8" width="8.64" height="9.8" fill="#ffa030"/><rect x="157.65" y="421.8" width="8.64" height="9.8" fill="#ff7020"/><rect x="166.23" y="421.8" width="8.64" height="9.8" fill="#ff4028"/><rect x="174.81" y="421.8" width="8.64" height="9.8" fill="#ff1828"/><g stroke="#333" stroke-width="0.5"><line x1="20.29" y1="421.8" x2="20.29" y2="431.6"/><line x1="28.87" y1="421.8" x2="28.87" y2="431.6"/><line x1="37.45" y1="421.8" x2="37.45" y2="431.6"/><line x1="46.04" y1="421.8" x2="46.04" y2="431.6"/><line x1="54.62" y1="421.8" x2="54.62" y2="431.6"/><line x1="63.21" y1="421.8" x2="63.21" y2="431.6"/><line x1="71.8" y1="421.8" x2="71.8" y2="431.6"/><line x1="80.38" y1="421.8" x2="80.38" y2="431.6"/><line x1="88.97" y1="421.8" x2="88.97" y2="431.6"/><line x1="97.55" y1="421.8" x2="97.55" y2="431.6"/><line x1="106.14" y1="421.8" x2="106.14" y2="431.6"/><line x1="114.72" y1="421.8" x2="114.72" y2="431.6"/><line x1="123.31" y1="421.8" x2="123.31" y2="431.6"/><line x1="131.89" y1="421.8" x2="131.89" y2="431.6"/><line x1="140.47" y1="421.8" x2="140.47" y2="431.6"/><line x1="149.06" y1="421.8" x2="149.06" y2="431.6"/><line x1="157.65" y1="421.8" x2="157.65" y2="431.6"/><line x1="166.23" y1="421.8" x2="166.23" y2="431.6"/><line x1="174.81" y1="421.8" x2="174.81" y2="431.6"/></g><rect x="11.7" y="421.8" width="171.7" height="9.8" fill="none" stroke="#555" stroke-width="0.7"/><text x="20.29" y="445.28" transform="rotate(-30 20.29 442.2)" text-anchor="middle" class="cl" style="font-size:8.8px">1000</text><text x="46.04" y="445.28" transform="rotate(-30 46.04 442.2)" text-anchor="middle" class="cl" style="font-size:8.8px">1003</text><text x="71.8" y="445.28" transform="rotate(-30 71.8 442.2)" text-anchor="middle" class="cl" style="font-size:8.8px">1006</text><text x="97.55" y="445.28" transform="rotate(-30 97.55 442.2)" text-anchor="middle" class="cl" style="font-size:8.8px">1009</text><text x="123.31" y="445.28" transform="rotate(-30 123.31 442.2)" text-anchor="middle" class="cl" style="font-size:8.8px">1012</text><text x="149.06" y="445.28" transform="rotate(-30 149.06 442.2)" text-anchor="middle" class="cl" style="font-size:8.8px">1015</text><text x="174.81" y="445.28" transform="rotate(-30 174.81 442.2)" text-anchor="middle" class="cl" style="font-size:8.8px">1018</text><text x="187.3" y="445.5" class="un" style="font-size:9.2px">hPa</text>
</g>
</svg>
</body></html>
